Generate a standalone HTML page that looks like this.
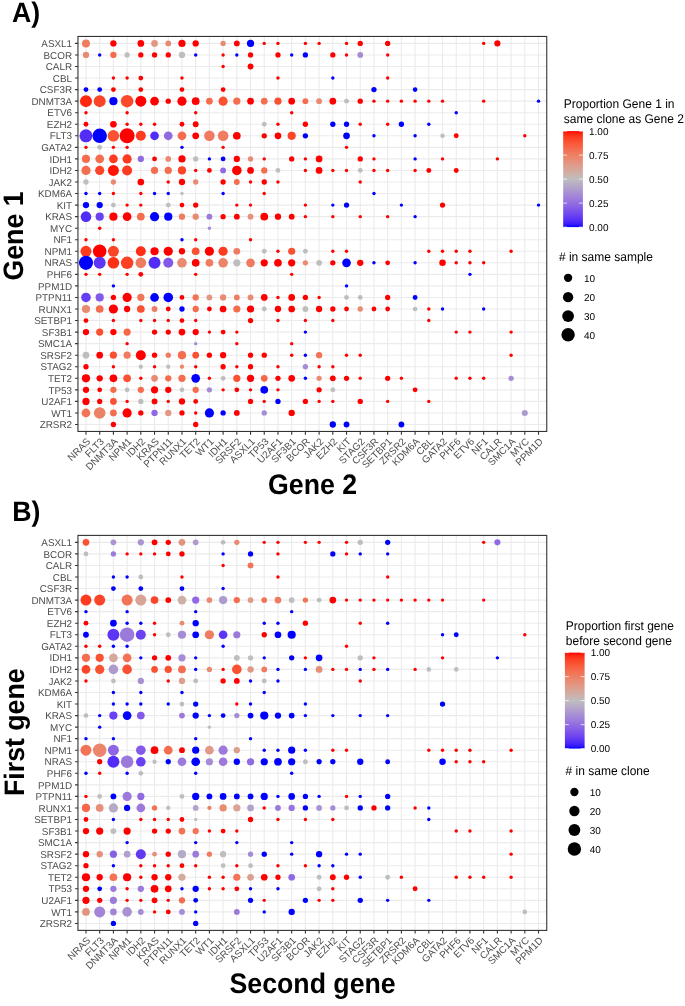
<!DOCTYPE html>
<html><head><meta charset="utf-8"><style>
html,body{margin:0;padding:0;background:#fff;}
body{width:685px;height:1006px;overflow:hidden;}
svg{display:block;will-change:transform;}
circle{shape-rendering:geometricPrecision;}
text{font-family:"Liberation Sans",sans-serif;text-rendering:geometricPrecision;}
.lab{font-size:9.9px;fill:#4d4d4d;}
.tt{font-size:26.7px;font-weight:bold;fill:#000;}
.lt{font-size:12px;fill:#000;}
.ll{font-size:10px;fill:#000;}
</style></head><body>
<svg width="685" height="1006" viewBox="0 0 685 1006">
<rect width="685" height="1006" fill="#fff"/>
<defs><linearGradient id="grad" x1="0" y1="0" x2="0" y2="1"><stop offset="0.0000" stop-color="#ff0000"/><stop offset="0.0250" stop-color="#fe240f"/><stop offset="0.0500" stop-color="#fd351c"/><stop offset="0.0750" stop-color="#fc4226"/><stop offset="0.1000" stop-color="#fa4d2f"/><stop offset="0.1250" stop-color="#f95738"/><stop offset="0.1500" stop-color="#f76041"/><stop offset="0.1750" stop-color="#f5684a"/><stop offset="0.2000" stop-color="#f37053"/><stop offset="0.2250" stop-color="#f0785b"/><stop offset="0.2500" stop-color="#ed7f64"/><stop offset="0.2750" stop-color="#eb866d"/><stop offset="0.3000" stop-color="#e78d76"/><stop offset="0.3250" stop-color="#e4937f"/><stop offset="0.3500" stop-color="#e09a87"/><stop offset="0.3750" stop-color="#dba090"/><stop offset="0.4000" stop-color="#d7a699"/><stop offset="0.4250" stop-color="#d1aca2"/><stop offset="0.4500" stop-color="#ccb2ac"/><stop offset="0.4750" stop-color="#c5b8b5"/><stop offset="0.5000" stop-color="#bebebe"/><stop offset="0.5250" stop-color="#bbb6c2"/><stop offset="0.5500" stop-color="#b7aec6"/><stop offset="0.5750" stop-color="#b4a6c9"/><stop offset="0.6000" stop-color="#b09ecd"/><stop offset="0.6250" stop-color="#ac96d0"/><stop offset="0.6500" stop-color="#a78ed4"/><stop offset="0.6750" stop-color="#a386d7"/><stop offset="0.7000" stop-color="#9e7eda"/><stop offset="0.7250" stop-color="#9876de"/><stop offset="0.7500" stop-color="#926de1"/><stop offset="0.7750" stop-color="#8c65e4"/><stop offset="0.8000" stop-color="#855de7"/><stop offset="0.8250" stop-color="#7d54ea"/><stop offset="0.8500" stop-color="#754ced"/><stop offset="0.8750" stop-color="#6c43f0"/><stop offset="0.9000" stop-color="#6139f3"/><stop offset="0.9250" stop-color="#552ff6"/><stop offset="0.9500" stop-color="#4624f9"/><stop offset="0.9750" stop-color="#3116fc"/><stop offset="1.0000" stop-color="#0000ff"/></linearGradient></defs>
<rect x="77.75" y="36.45" width="469.00" height="395.00" fill="#fff"/>
<path d="M85.98 36.45V431.45M99.69 36.45V431.45M113.40 36.45V431.45M127.12 36.45V431.45M140.83 36.45V431.45M154.55 36.45V431.45M168.26 36.45V431.45M181.97 36.45V431.45M195.69 36.45V431.45M209.40 36.45V431.45M223.11 36.45V431.45M236.83 36.45V431.45M250.54 36.45V431.45M264.25 36.45V431.45M277.97 36.45V431.45M291.68 36.45V431.45M305.39 36.45V431.45M319.11 36.45V431.45M332.82 36.45V431.45M346.53 36.45V431.45M360.25 36.45V431.45M373.96 36.45V431.45M387.67 36.45V431.45M401.39 36.45V431.45M415.10 36.45V431.45M428.81 36.45V431.45M442.53 36.45V431.45M456.24 36.45V431.45M469.95 36.45V431.45M483.67 36.45V431.45M497.38 36.45V431.45M511.10 36.45V431.45M524.81 36.45V431.45M538.52 36.45V431.45M77.75 43.38H546.75M77.75 54.93H546.75M77.75 66.48H546.75M77.75 78.03H546.75M77.75 89.58H546.75M77.75 101.13H546.75M77.75 112.68H546.75M77.75 124.23H546.75M77.75 135.78H546.75M77.75 147.33H546.75M77.75 158.88H546.75M77.75 170.43H546.75M77.75 181.98H546.75M77.75 193.53H546.75M77.75 205.08H546.75M77.75 216.63H546.75M77.75 228.18H546.75M77.75 239.72H546.75M77.75 251.27H546.75M77.75 262.82H546.75M77.75 274.37H546.75M77.75 285.92H546.75M77.75 297.47H546.75M77.75 309.02H546.75M77.75 320.57H546.75M77.75 332.12H546.75M77.75 343.67H546.75M77.75 355.22H546.75M77.75 366.77H546.75M77.75 378.32H546.75M77.75 389.87H546.75M77.75 401.42H546.75M77.75 412.97H546.75M77.75 424.52H546.75" stroke="#ebebeb" stroke-width="1.1" fill="none"/>
<circle cx="85.98" cy="43.38" r="4.00" fill="#ef7c61"/>
<circle cx="113.40" cy="43.38" r="3.15" fill="#ff0000"/>
<circle cx="140.83" cy="43.38" r="3.35" fill="#ff0000"/>
<circle cx="154.55" cy="43.38" r="3.35" fill="#e19784"/>
<circle cx="168.26" cy="43.38" r="2.90" fill="#e98a72"/>
<circle cx="181.97" cy="43.38" r="3.60" fill="#ff0000"/>
<circle cx="195.69" cy="43.38" r="3.15" fill="#ff0000"/>
<circle cx="223.11" cy="43.38" r="2.65" fill="#e98a72"/>
<circle cx="236.83" cy="43.38" r="2.90" fill="#ff0000"/>
<circle cx="250.54" cy="43.38" r="3.60" fill="#0000ff"/>
<circle cx="264.25" cy="43.38" r="1.70" fill="#ff0000"/>
<circle cx="277.97" cy="43.38" r="1.70" fill="#ff0000"/>
<circle cx="305.39" cy="43.38" r="1.70" fill="#ff0000"/>
<circle cx="319.11" cy="43.38" r="1.70" fill="#ff0000"/>
<circle cx="346.53" cy="43.38" r="1.70" fill="#ff0000"/>
<circle cx="360.25" cy="43.38" r="2.65" fill="#ff0000"/>
<circle cx="387.67" cy="43.38" r="2.65" fill="#ff0000"/>
<circle cx="483.67" cy="43.38" r="1.70" fill="#ff0000"/>
<circle cx="497.38" cy="43.38" r="3.05" fill="#ff0000"/>
<circle cx="85.98" cy="54.93" r="3.15" fill="#e98a72"/>
<circle cx="99.69" cy="54.93" r="1.70" fill="#0000ff"/>
<circle cx="113.40" cy="54.93" r="3.15" fill="#f46d4f"/>
<circle cx="127.12" cy="54.93" r="2.65" fill="#bebebe"/>
<circle cx="140.83" cy="54.93" r="2.65" fill="#ff0000"/>
<circle cx="154.55" cy="54.93" r="2.65" fill="#ff0000"/>
<circle cx="168.26" cy="54.93" r="2.65" fill="#ff0000"/>
<circle cx="181.97" cy="54.93" r="3.15" fill="#bebebe"/>
<circle cx="195.69" cy="54.93" r="1.70" fill="#0000ff"/>
<circle cx="223.11" cy="54.93" r="1.70" fill="#ff0000"/>
<circle cx="236.83" cy="54.93" r="1.70" fill="#0000ff"/>
<circle cx="250.54" cy="54.93" r="2.65" fill="#ff0000"/>
<circle cx="277.97" cy="54.93" r="2.65" fill="#ff0000"/>
<circle cx="291.68" cy="54.93" r="1.70" fill="#0000ff"/>
<circle cx="305.39" cy="54.93" r="2.65" fill="#0000ff"/>
<circle cx="332.82" cy="54.93" r="2.65" fill="#ff0000"/>
<circle cx="346.53" cy="54.93" r="1.70" fill="#ff0000"/>
<circle cx="360.25" cy="54.93" r="2.90" fill="#a68bd5"/>
<circle cx="387.67" cy="54.93" r="1.70" fill="#ff0000"/>
<circle cx="223.11" cy="66.48" r="1.70" fill="#ff0000"/>
<circle cx="250.54" cy="66.48" r="2.90" fill="#ff0000"/>
<circle cx="113.40" cy="78.03" r="1.70" fill="#ff0000"/>
<circle cx="127.12" cy="78.03" r="1.70" fill="#ff0000"/>
<circle cx="140.83" cy="78.03" r="2.40" fill="#ff0000"/>
<circle cx="181.97" cy="78.03" r="1.70" fill="#ff0000"/>
<circle cx="277.97" cy="78.03" r="1.70" fill="#ff0000"/>
<circle cx="332.82" cy="78.03" r="1.70" fill="#0000ff"/>
<circle cx="387.67" cy="78.03" r="1.70" fill="#ff0000"/>
<circle cx="85.98" cy="89.58" r="2.40" fill="#0000ff"/>
<circle cx="99.69" cy="89.58" r="2.40" fill="#0000ff"/>
<circle cx="113.40" cy="89.58" r="2.40" fill="#ff0000"/>
<circle cx="140.83" cy="89.58" r="2.40" fill="#ff0000"/>
<circle cx="181.97" cy="89.58" r="2.40" fill="#ff0000"/>
<circle cx="223.11" cy="89.58" r="2.40" fill="#ff0000"/>
<circle cx="373.96" cy="89.58" r="2.65" fill="#0000ff"/>
<circle cx="415.10" cy="89.58" r="2.30" fill="#0000ff"/>
<circle cx="85.98" cy="101.13" r="6.00" fill="#fe2812"/>
<circle cx="99.69" cy="101.13" r="6.00" fill="#fb4528"/>
<circle cx="113.40" cy="101.13" r="4.10" fill="#0000ff"/>
<circle cx="127.12" cy="101.13" r="6.25" fill="#fb492b"/>
<circle cx="140.83" cy="101.13" r="5.50" fill="#ff0000"/>
<circle cx="154.55" cy="101.13" r="4.35" fill="#ff0000"/>
<circle cx="168.26" cy="101.13" r="2.65" fill="#ff0000"/>
<circle cx="181.97" cy="101.13" r="4.60" fill="#ff0000"/>
<circle cx="195.69" cy="101.13" r="3.85" fill="#ff0000"/>
<circle cx="209.40" cy="101.13" r="3.35" fill="#f46d4f"/>
<circle cx="223.11" cy="101.13" r="4.60" fill="#fa5133"/>
<circle cx="236.83" cy="101.13" r="3.60" fill="#f46d4f"/>
<circle cx="250.54" cy="101.13" r="3.35" fill="#ff0000"/>
<circle cx="264.25" cy="101.13" r="3.35" fill="#f46d4f"/>
<circle cx="277.97" cy="101.13" r="3.60" fill="#fa5133"/>
<circle cx="291.68" cy="101.13" r="3.35" fill="#ff0000"/>
<circle cx="305.39" cy="101.13" r="2.90" fill="#f46d4f"/>
<circle cx="319.11" cy="101.13" r="2.90" fill="#e98a72"/>
<circle cx="332.82" cy="101.13" r="3.35" fill="#ff0000"/>
<circle cx="346.53" cy="101.13" r="2.40" fill="#bebebe"/>
<circle cx="360.25" cy="101.13" r="2.65" fill="#ff0000"/>
<circle cx="373.96" cy="101.13" r="1.70" fill="#ff0000"/>
<circle cx="387.67" cy="101.13" r="1.70" fill="#ff0000"/>
<circle cx="401.39" cy="101.13" r="1.70" fill="#ff0000"/>
<circle cx="415.10" cy="101.13" r="1.70" fill="#ff0000"/>
<circle cx="428.81" cy="101.13" r="1.70" fill="#ff0000"/>
<circle cx="442.53" cy="101.13" r="1.70" fill="#ff0000"/>
<circle cx="483.67" cy="101.13" r="1.70" fill="#ff0000"/>
<circle cx="538.52" cy="101.13" r="1.70" fill="#0000ff"/>
<circle cx="85.98" cy="112.68" r="1.70" fill="#ff0000"/>
<circle cx="127.12" cy="112.68" r="1.70" fill="#ff0000"/>
<circle cx="195.69" cy="112.68" r="1.70" fill="#ff0000"/>
<circle cx="291.68" cy="112.68" r="1.70" fill="#ff0000"/>
<circle cx="456.24" cy="112.68" r="1.70" fill="#0000ff"/>
<circle cx="85.98" cy="124.23" r="2.40" fill="#ff0000"/>
<circle cx="113.40" cy="124.23" r="3.35" fill="#ff0000"/>
<circle cx="127.12" cy="124.23" r="1.70" fill="#ff0000"/>
<circle cx="140.83" cy="124.23" r="1.70" fill="#ff0000"/>
<circle cx="154.55" cy="124.23" r="1.70" fill="#ff0000"/>
<circle cx="181.97" cy="124.23" r="2.40" fill="#ff0000"/>
<circle cx="195.69" cy="124.23" r="2.90" fill="#ff0000"/>
<circle cx="264.25" cy="124.23" r="2.40" fill="#bebebe"/>
<circle cx="277.97" cy="124.23" r="1.70" fill="#ff0000"/>
<circle cx="305.39" cy="124.23" r="2.65" fill="#ff0000"/>
<circle cx="332.82" cy="124.23" r="2.65" fill="#0000ff"/>
<circle cx="346.53" cy="124.23" r="2.65" fill="#0000ff"/>
<circle cx="360.25" cy="124.23" r="1.70" fill="#ff0000"/>
<circle cx="387.67" cy="124.23" r="1.70" fill="#ff0000"/>
<circle cx="401.39" cy="124.23" r="2.65" fill="#0000ff"/>
<circle cx="428.81" cy="124.23" r="1.70" fill="#0000ff"/>
<circle cx="85.98" cy="135.78" r="6.50" fill="#522df7"/>
<circle cx="99.69" cy="135.78" r="7.25" fill="#0000ff"/>
<circle cx="113.40" cy="135.78" r="5.80" fill="#fa5133"/>
<circle cx="127.12" cy="135.78" r="7.50" fill="#ff0000"/>
<circle cx="140.83" cy="135.78" r="5.00" fill="#fc3b20"/>
<circle cx="154.55" cy="135.78" r="4.35" fill="#522df7"/>
<circle cx="168.26" cy="135.78" r="4.35" fill="#906ae2"/>
<circle cx="181.97" cy="135.78" r="4.35" fill="#f46d4f"/>
<circle cx="195.69" cy="135.78" r="3.35" fill="#ff0000"/>
<circle cx="209.40" cy="135.78" r="5.30" fill="#ef7c61"/>
<circle cx="223.11" cy="135.78" r="5.30" fill="#ef7c61"/>
<circle cx="236.83" cy="135.78" r="3.85" fill="#ff0000"/>
<circle cx="264.25" cy="135.78" r="2.65" fill="#ff0000"/>
<circle cx="277.97" cy="135.78" r="3.35" fill="#ff0000"/>
<circle cx="291.68" cy="135.78" r="4.10" fill="#fb4528"/>
<circle cx="305.39" cy="135.78" r="2.65" fill="#0000ff"/>
<circle cx="346.53" cy="135.78" r="3.35" fill="#0000ff"/>
<circle cx="373.96" cy="135.78" r="1.70" fill="#0000ff"/>
<circle cx="415.10" cy="135.78" r="1.70" fill="#0000ff"/>
<circle cx="442.53" cy="135.78" r="2.30" fill="#bebebe"/>
<circle cx="456.24" cy="135.78" r="2.45" fill="#ff0000"/>
<circle cx="524.81" cy="135.78" r="1.70" fill="#ff0000"/>
<circle cx="85.98" cy="147.33" r="1.70" fill="#ff0000"/>
<circle cx="99.69" cy="147.33" r="2.40" fill="#bebebe"/>
<circle cx="113.40" cy="147.33" r="1.70" fill="#ff0000"/>
<circle cx="127.12" cy="147.33" r="1.70" fill="#ff0000"/>
<circle cx="181.97" cy="147.33" r="1.70" fill="#0000ff"/>
<circle cx="223.11" cy="147.33" r="1.70" fill="#ff0000"/>
<circle cx="346.53" cy="147.33" r="1.70" fill="#ff0000"/>
<circle cx="85.98" cy="158.88" r="4.10" fill="#f46d4f"/>
<circle cx="99.69" cy="158.88" r="4.35" fill="#f46d4f"/>
<circle cx="113.40" cy="158.88" r="4.35" fill="#fc3b20"/>
<circle cx="127.12" cy="158.88" r="4.60" fill="#fc3b20"/>
<circle cx="140.83" cy="158.88" r="3.15" fill="#906ae2"/>
<circle cx="154.55" cy="158.88" r="2.40" fill="#ff0000"/>
<circle cx="168.26" cy="158.88" r="2.90" fill="#e98a72"/>
<circle cx="181.97" cy="158.88" r="3.60" fill="#ff0000"/>
<circle cx="195.69" cy="158.88" r="2.65" fill="#bebebe"/>
<circle cx="209.40" cy="158.88" r="1.70" fill="#0000ff"/>
<circle cx="223.11" cy="158.88" r="2.40" fill="#0000ff"/>
<circle cx="236.83" cy="158.88" r="3.15" fill="#ff0000"/>
<circle cx="250.54" cy="158.88" r="2.65" fill="#e98a72"/>
<circle cx="264.25" cy="158.88" r="1.70" fill="#ff0000"/>
<circle cx="291.68" cy="158.88" r="2.65" fill="#ff0000"/>
<circle cx="305.39" cy="158.88" r="1.70" fill="#ff0000"/>
<circle cx="319.11" cy="158.88" r="3.35" fill="#ff0000"/>
<circle cx="360.25" cy="158.88" r="2.65" fill="#ff0000"/>
<circle cx="373.96" cy="158.88" r="1.70" fill="#ff0000"/>
<circle cx="415.10" cy="158.88" r="1.70" fill="#0000ff"/>
<circle cx="442.53" cy="158.88" r="1.70" fill="#ff0000"/>
<circle cx="497.38" cy="158.88" r="1.70" fill="#ff0000"/>
<circle cx="85.98" cy="170.43" r="4.60" fill="#f46d4f"/>
<circle cx="99.69" cy="170.43" r="4.60" fill="#fb4528"/>
<circle cx="113.40" cy="170.43" r="5.50" fill="#ff1406"/>
<circle cx="127.12" cy="170.43" r="5.00" fill="#fc3b20"/>
<circle cx="154.55" cy="170.43" r="3.60" fill="#f46d4f"/>
<circle cx="168.26" cy="170.43" r="3.60" fill="#f46d4f"/>
<circle cx="181.97" cy="170.43" r="4.10" fill="#fb4528"/>
<circle cx="195.69" cy="170.43" r="1.70" fill="#ff0000"/>
<circle cx="209.40" cy="170.43" r="2.40" fill="#ff0000"/>
<circle cx="223.11" cy="170.43" r="2.90" fill="#906ae2"/>
<circle cx="236.83" cy="170.43" r="4.80" fill="#ff0000"/>
<circle cx="250.54" cy="170.43" r="3.35" fill="#ff0000"/>
<circle cx="264.25" cy="170.43" r="3.15" fill="#f46d4f"/>
<circle cx="277.97" cy="170.43" r="2.40" fill="#bebebe"/>
<circle cx="305.39" cy="170.43" r="1.70" fill="#ff0000"/>
<circle cx="319.11" cy="170.43" r="3.35" fill="#ff0000"/>
<circle cx="332.82" cy="170.43" r="1.70" fill="#ff0000"/>
<circle cx="346.53" cy="170.43" r="1.70" fill="#ff0000"/>
<circle cx="360.25" cy="170.43" r="2.40" fill="#bebebe"/>
<circle cx="373.96" cy="170.43" r="1.70" fill="#ff0000"/>
<circle cx="387.67" cy="170.43" r="1.70" fill="#ff0000"/>
<circle cx="415.10" cy="170.43" r="1.70" fill="#ff0000"/>
<circle cx="428.81" cy="170.43" r="2.45" fill="#ff0000"/>
<circle cx="456.24" cy="170.43" r="2.45" fill="#ff0000"/>
<circle cx="85.98" cy="181.98" r="2.65" fill="#bebebe"/>
<circle cx="113.40" cy="181.98" r="2.65" fill="#e98a72"/>
<circle cx="140.83" cy="181.98" r="3.35" fill="#ff0000"/>
<circle cx="168.26" cy="181.98" r="1.70" fill="#ff0000"/>
<circle cx="181.97" cy="181.98" r="3.15" fill="#ff0000"/>
<circle cx="195.69" cy="181.98" r="2.65" fill="#e98a72"/>
<circle cx="223.11" cy="181.98" r="2.65" fill="#ff0000"/>
<circle cx="236.83" cy="181.98" r="2.90" fill="#f46d4f"/>
<circle cx="250.54" cy="181.98" r="1.70" fill="#ff0000"/>
<circle cx="264.25" cy="181.98" r="2.65" fill="#ff0000"/>
<circle cx="277.97" cy="181.98" r="1.70" fill="#ff0000"/>
<circle cx="360.25" cy="181.98" r="1.70" fill="#ff0000"/>
<circle cx="85.98" cy="193.53" r="1.70" fill="#0000ff"/>
<circle cx="99.69" cy="193.53" r="1.70" fill="#0000ff"/>
<circle cx="113.40" cy="193.53" r="1.70" fill="#ff0000"/>
<circle cx="140.83" cy="193.53" r="1.70" fill="#ff0000"/>
<circle cx="154.55" cy="193.53" r="1.70" fill="#0000ff"/>
<circle cx="168.26" cy="193.53" r="1.70" fill="#0000ff"/>
<circle cx="181.97" cy="193.53" r="1.70" fill="#bebebe"/>
<circle cx="223.11" cy="193.53" r="1.70" fill="#0000ff"/>
<circle cx="264.25" cy="193.53" r="1.70" fill="#ff0000"/>
<circle cx="373.96" cy="193.53" r="1.70" fill="#0000ff"/>
<circle cx="85.98" cy="205.08" r="3.15" fill="#0000ff"/>
<circle cx="99.69" cy="205.08" r="3.15" fill="#0000ff"/>
<circle cx="113.40" cy="205.08" r="2.40" fill="#bebebe"/>
<circle cx="127.12" cy="205.08" r="1.70" fill="#ff0000"/>
<circle cx="140.83" cy="205.08" r="1.70" fill="#ff0000"/>
<circle cx="168.26" cy="205.08" r="2.40" fill="#bebebe"/>
<circle cx="181.97" cy="205.08" r="2.40" fill="#ff0000"/>
<circle cx="195.69" cy="205.08" r="2.65" fill="#ff0000"/>
<circle cx="236.83" cy="205.08" r="1.70" fill="#ff0000"/>
<circle cx="250.54" cy="205.08" r="1.70" fill="#ff0000"/>
<circle cx="305.39" cy="205.08" r="1.70" fill="#ff0000"/>
<circle cx="332.82" cy="205.08" r="1.70" fill="#0000ff"/>
<circle cx="346.53" cy="205.08" r="2.65" fill="#0000ff"/>
<circle cx="401.39" cy="205.08" r="1.70" fill="#0000ff"/>
<circle cx="442.53" cy="205.08" r="2.65" fill="#ff0000"/>
<circle cx="538.52" cy="205.08" r="1.70" fill="#0000ff"/>
<circle cx="85.98" cy="216.63" r="5.30" fill="#522df7"/>
<circle cx="99.69" cy="216.63" r="4.10" fill="#6a41f1"/>
<circle cx="113.40" cy="216.63" r="4.10" fill="#ff0000"/>
<circle cx="127.12" cy="216.63" r="4.35" fill="#ff0000"/>
<circle cx="140.83" cy="216.63" r="3.85" fill="#f46d4f"/>
<circle cx="154.55" cy="216.63" r="4.60" fill="#0000ff"/>
<circle cx="168.26" cy="216.63" r="4.10" fill="#0000ff"/>
<circle cx="181.97" cy="216.63" r="3.15" fill="#ef7c61"/>
<circle cx="195.69" cy="216.63" r="3.15" fill="#e98a72"/>
<circle cx="209.40" cy="216.63" r="2.90" fill="#9b7adc"/>
<circle cx="223.11" cy="216.63" r="2.65" fill="#ff0000"/>
<circle cx="236.83" cy="216.63" r="2.90" fill="#ff0000"/>
<circle cx="250.54" cy="216.63" r="2.90" fill="#e68f79"/>
<circle cx="264.25" cy="216.63" r="3.85" fill="#ff0000"/>
<circle cx="277.97" cy="216.63" r="3.15" fill="#ff0000"/>
<circle cx="291.68" cy="216.63" r="2.90" fill="#ff0000"/>
<circle cx="305.39" cy="216.63" r="1.70" fill="#ff0000"/>
<circle cx="332.82" cy="216.63" r="1.70" fill="#ff0000"/>
<circle cx="360.25" cy="216.63" r="1.70" fill="#ff0000"/>
<circle cx="387.67" cy="216.63" r="1.70" fill="#ff0000"/>
<circle cx="415.10" cy="216.63" r="1.70" fill="#0000ff"/>
<circle cx="99.69" cy="228.18" r="1.70" fill="#ff0000"/>
<circle cx="209.40" cy="228.18" r="1.70" fill="#a68bd5"/>
<circle cx="85.98" cy="239.72" r="1.70" fill="#ff0000"/>
<circle cx="113.40" cy="239.72" r="1.70" fill="#ff0000"/>
<circle cx="181.97" cy="239.72" r="1.70" fill="#0000ff"/>
<circle cx="195.69" cy="239.72" r="1.70" fill="#ff0000"/>
<circle cx="250.54" cy="239.72" r="1.70" fill="#ff0000"/>
<circle cx="85.98" cy="251.27" r="5.50" fill="#fc3b20"/>
<circle cx="99.69" cy="251.27" r="6.75" fill="#ff0000"/>
<circle cx="113.40" cy="251.27" r="5.50" fill="#fb4528"/>
<circle cx="140.83" cy="251.27" r="5.00" fill="#fd2f17"/>
<circle cx="154.55" cy="251.27" r="4.10" fill="#ff0000"/>
<circle cx="168.26" cy="251.27" r="4.60" fill="#ff0000"/>
<circle cx="181.97" cy="251.27" r="3.15" fill="#ff0000"/>
<circle cx="195.69" cy="251.27" r="3.85" fill="#fa5133"/>
<circle cx="209.40" cy="251.27" r="4.60" fill="#ff0000"/>
<circle cx="223.11" cy="251.27" r="4.60" fill="#fc3b20"/>
<circle cx="236.83" cy="251.27" r="3.35" fill="#ef7c61"/>
<circle cx="264.25" cy="251.27" r="2.40" fill="#bebebe"/>
<circle cx="277.97" cy="251.27" r="1.70" fill="#ff0000"/>
<circle cx="291.68" cy="251.27" r="3.60" fill="#fa5133"/>
<circle cx="305.39" cy="251.27" r="2.40" fill="#bebebe"/>
<circle cx="332.82" cy="251.27" r="1.70" fill="#ff0000"/>
<circle cx="346.53" cy="251.27" r="1.70" fill="#ff0000"/>
<circle cx="428.81" cy="251.27" r="1.70" fill="#ff0000"/>
<circle cx="442.53" cy="251.27" r="1.70" fill="#ff0000"/>
<circle cx="456.24" cy="251.27" r="1.70" fill="#ff0000"/>
<circle cx="469.95" cy="251.27" r="1.70" fill="#ff0000"/>
<circle cx="511.10" cy="251.27" r="1.70" fill="#ff0000"/>
<circle cx="85.98" cy="262.82" r="7.10" fill="#0000ff"/>
<circle cx="99.69" cy="262.82" r="6.00" fill="#5d35f4"/>
<circle cx="113.40" cy="262.82" r="5.80" fill="#fd2f17"/>
<circle cx="127.12" cy="262.82" r="6.25" fill="#fc4024"/>
<circle cx="140.83" cy="262.82" r="5.30" fill="#ef7c61"/>
<circle cx="154.55" cy="262.82" r="6.00" fill="#522df7"/>
<circle cx="168.26" cy="262.82" r="5.00" fill="#8259e8"/>
<circle cx="181.97" cy="262.82" r="4.80" fill="#e98a72"/>
<circle cx="195.69" cy="262.82" r="3.85" fill="#ff0000"/>
<circle cx="209.40" cy="262.82" r="3.85" fill="#ef7c61"/>
<circle cx="223.11" cy="262.82" r="4.80" fill="#eb856b"/>
<circle cx="236.83" cy="262.82" r="3.60" fill="#bebebe"/>
<circle cx="250.54" cy="262.82" r="4.35" fill="#ef7c61"/>
<circle cx="264.25" cy="262.82" r="3.60" fill="#ff0000"/>
<circle cx="277.97" cy="262.82" r="3.85" fill="#ff0000"/>
<circle cx="291.68" cy="262.82" r="3.60" fill="#ff0000"/>
<circle cx="305.39" cy="262.82" r="2.65" fill="#e98a72"/>
<circle cx="319.11" cy="262.82" r="2.90" fill="#bebebe"/>
<circle cx="332.82" cy="262.82" r="2.65" fill="#ff0000"/>
<circle cx="346.53" cy="262.82" r="4.35" fill="#0000ff"/>
<circle cx="360.25" cy="262.82" r="3.15" fill="#ff0000"/>
<circle cx="373.96" cy="262.82" r="1.70" fill="#0000ff"/>
<circle cx="387.67" cy="262.82" r="2.40" fill="#ff0000"/>
<circle cx="415.10" cy="262.82" r="1.70" fill="#0000ff"/>
<circle cx="442.53" cy="262.82" r="3.25" fill="#ff0000"/>
<circle cx="456.24" cy="262.82" r="1.70" fill="#ff0000"/>
<circle cx="469.95" cy="262.82" r="1.70" fill="#ff0000"/>
<circle cx="483.67" cy="262.82" r="1.70" fill="#ff0000"/>
<circle cx="85.98" cy="274.37" r="1.70" fill="#ff0000"/>
<circle cx="99.69" cy="274.37" r="1.70" fill="#ff0000"/>
<circle cx="127.12" cy="274.37" r="1.70" fill="#ff0000"/>
<circle cx="140.83" cy="274.37" r="2.40" fill="#ff0000"/>
<circle cx="195.69" cy="274.37" r="1.70" fill="#ff0000"/>
<circle cx="291.68" cy="274.37" r="1.70" fill="#ff0000"/>
<circle cx="469.95" cy="274.37" r="1.70" fill="#0000ff"/>
<circle cx="113.40" cy="285.92" r="1.70" fill="#0000ff"/>
<circle cx="346.53" cy="285.92" r="1.70" fill="#0000ff"/>
<circle cx="85.98" cy="297.47" r="4.80" fill="#663df2"/>
<circle cx="99.69" cy="297.47" r="4.10" fill="#8259e8"/>
<circle cx="113.40" cy="297.47" r="2.65" fill="#ff0000"/>
<circle cx="127.12" cy="297.47" r="4.60" fill="#ff0000"/>
<circle cx="140.83" cy="297.47" r="3.60" fill="#f27356"/>
<circle cx="154.55" cy="297.47" r="4.35" fill="#0000ff"/>
<circle cx="168.26" cy="297.47" r="4.80" fill="#0000ff"/>
<circle cx="181.97" cy="297.47" r="2.40" fill="#ff0000"/>
<circle cx="195.69" cy="297.47" r="3.15" fill="#f27356"/>
<circle cx="209.40" cy="297.47" r="2.90" fill="#e19784"/>
<circle cx="223.11" cy="297.47" r="3.15" fill="#e98a72"/>
<circle cx="236.83" cy="297.47" r="2.90" fill="#ef7c61"/>
<circle cx="250.54" cy="297.47" r="2.90" fill="#e98a72"/>
<circle cx="264.25" cy="297.47" r="3.35" fill="#ff0000"/>
<circle cx="277.97" cy="297.47" r="1.70" fill="#ff0000"/>
<circle cx="291.68" cy="297.47" r="3.35" fill="#ff0000"/>
<circle cx="305.39" cy="297.47" r="2.65" fill="#ff0000"/>
<circle cx="319.11" cy="297.47" r="1.70" fill="#ff0000"/>
<circle cx="346.53" cy="297.47" r="2.40" fill="#bebebe"/>
<circle cx="360.25" cy="297.47" r="2.40" fill="#bebebe"/>
<circle cx="387.67" cy="297.47" r="2.65" fill="#ff0000"/>
<circle cx="415.10" cy="297.47" r="2.45" fill="#0000ff"/>
<circle cx="85.98" cy="309.02" r="4.10" fill="#e98a72"/>
<circle cx="99.69" cy="309.02" r="3.85" fill="#f46d4f"/>
<circle cx="113.40" cy="309.02" r="4.60" fill="#ff0000"/>
<circle cx="127.12" cy="309.02" r="3.15" fill="#ff0000"/>
<circle cx="140.83" cy="309.02" r="3.85" fill="#fa5133"/>
<circle cx="154.55" cy="309.02" r="2.90" fill="#ef7c61"/>
<circle cx="168.26" cy="309.02" r="2.40" fill="#ff0000"/>
<circle cx="181.97" cy="309.02" r="2.65" fill="#0000ff"/>
<circle cx="195.69" cy="309.02" r="3.15" fill="#f46d4f"/>
<circle cx="209.40" cy="309.02" r="2.40" fill="#ff0000"/>
<circle cx="223.11" cy="309.02" r="3.35" fill="#ff0000"/>
<circle cx="236.83" cy="309.02" r="3.60" fill="#f46d4f"/>
<circle cx="250.54" cy="309.02" r="3.60" fill="#ff0000"/>
<circle cx="264.25" cy="309.02" r="2.40" fill="#bebebe"/>
<circle cx="277.97" cy="309.02" r="3.15" fill="#ff0000"/>
<circle cx="291.68" cy="309.02" r="3.35" fill="#ff0000"/>
<circle cx="305.39" cy="309.02" r="2.90" fill="#bebebe"/>
<circle cx="319.11" cy="309.02" r="3.15" fill="#ff0000"/>
<circle cx="332.82" cy="309.02" r="2.65" fill="#ff0000"/>
<circle cx="346.53" cy="309.02" r="2.40" fill="#ff0000"/>
<circle cx="360.25" cy="309.02" r="2.65" fill="#e98a72"/>
<circle cx="373.96" cy="309.02" r="2.40" fill="#ff0000"/>
<circle cx="387.67" cy="309.02" r="2.40" fill="#ff0000"/>
<circle cx="415.10" cy="309.02" r="2.30" fill="#bebebe"/>
<circle cx="428.81" cy="309.02" r="1.70" fill="#ff0000"/>
<circle cx="442.53" cy="309.02" r="1.70" fill="#0000ff"/>
<circle cx="483.67" cy="309.02" r="1.70" fill="#0000ff"/>
<circle cx="85.98" cy="320.57" r="2.40" fill="#ff0000"/>
<circle cx="113.40" cy="320.57" r="1.70" fill="#ff0000"/>
<circle cx="140.83" cy="320.57" r="1.70" fill="#ff0000"/>
<circle cx="154.55" cy="320.57" r="1.70" fill="#ff0000"/>
<circle cx="168.26" cy="320.57" r="1.70" fill="#ff0000"/>
<circle cx="181.97" cy="320.57" r="2.40" fill="#ff0000"/>
<circle cx="195.69" cy="320.57" r="1.70" fill="#ff0000"/>
<circle cx="250.54" cy="320.57" r="2.65" fill="#ff0000"/>
<circle cx="277.97" cy="320.57" r="1.70" fill="#ff0000"/>
<circle cx="305.39" cy="320.57" r="1.70" fill="#ff0000"/>
<circle cx="332.82" cy="320.57" r="1.70" fill="#ff0000"/>
<circle cx="428.81" cy="320.57" r="1.70" fill="#ff0000"/>
<circle cx="85.98" cy="332.12" r="3.15" fill="#ff0000"/>
<circle cx="99.69" cy="332.12" r="3.60" fill="#fa5133"/>
<circle cx="113.40" cy="332.12" r="3.15" fill="#ff0000"/>
<circle cx="127.12" cy="332.12" r="3.60" fill="#f56748"/>
<circle cx="154.55" cy="332.12" r="2.65" fill="#ff0000"/>
<circle cx="168.26" cy="332.12" r="2.65" fill="#ff0000"/>
<circle cx="181.97" cy="332.12" r="3.35" fill="#ff0000"/>
<circle cx="195.69" cy="332.12" r="3.15" fill="#ff0000"/>
<circle cx="209.40" cy="332.12" r="1.70" fill="#ff0000"/>
<circle cx="223.11" cy="332.12" r="2.40" fill="#ff0000"/>
<circle cx="236.83" cy="332.12" r="1.70" fill="#ff0000"/>
<circle cx="305.39" cy="332.12" r="1.70" fill="#0000ff"/>
<circle cx="456.24" cy="332.12" r="1.70" fill="#ff0000"/>
<circle cx="469.95" cy="332.12" r="1.70" fill="#ff0000"/>
<circle cx="511.10" cy="332.12" r="1.70" fill="#ff0000"/>
<circle cx="127.12" cy="343.67" r="1.70" fill="#ff0000"/>
<circle cx="195.69" cy="343.67" r="1.70" fill="#a68bd5"/>
<circle cx="236.83" cy="343.67" r="1.70" fill="#ff0000"/>
<circle cx="291.68" cy="343.67" r="1.70" fill="#ff0000"/>
<circle cx="85.98" cy="355.22" r="3.35" fill="#bebebe"/>
<circle cx="99.69" cy="355.22" r="3.35" fill="#ff0000"/>
<circle cx="113.40" cy="355.22" r="3.60" fill="#fa5133"/>
<circle cx="127.12" cy="355.22" r="3.60" fill="#ef7c61"/>
<circle cx="140.83" cy="355.22" r="5.00" fill="#ff0000"/>
<circle cx="154.55" cy="355.22" r="2.65" fill="#ff0000"/>
<circle cx="168.26" cy="355.22" r="2.65" fill="#ef7c61"/>
<circle cx="181.97" cy="355.22" r="4.10" fill="#f46d4f"/>
<circle cx="195.69" cy="355.22" r="3.35" fill="#fa5133"/>
<circle cx="209.40" cy="355.22" r="2.65" fill="#ff0000"/>
<circle cx="223.11" cy="355.22" r="3.15" fill="#ff0000"/>
<circle cx="250.54" cy="355.22" r="2.65" fill="#ff0000"/>
<circle cx="264.25" cy="355.22" r="2.65" fill="#ff0000"/>
<circle cx="291.68" cy="355.22" r="1.70" fill="#ff0000"/>
<circle cx="305.39" cy="355.22" r="1.70" fill="#0000ff"/>
<circle cx="319.11" cy="355.22" r="3.15" fill="#f27356"/>
<circle cx="346.53" cy="355.22" r="1.70" fill="#ff0000"/>
<circle cx="360.25" cy="355.22" r="1.70" fill="#ff0000"/>
<circle cx="511.10" cy="355.22" r="1.70" fill="#ff0000"/>
<circle cx="85.98" cy="366.77" r="2.65" fill="#ff0000"/>
<circle cx="113.40" cy="366.77" r="1.70" fill="#ff0000"/>
<circle cx="140.83" cy="366.77" r="2.15" fill="#bebebe"/>
<circle cx="154.55" cy="366.77" r="1.70" fill="#ff0000"/>
<circle cx="168.26" cy="366.77" r="2.15" fill="#bebebe"/>
<circle cx="181.97" cy="366.77" r="2.15" fill="#eb856b"/>
<circle cx="195.69" cy="366.77" r="1.70" fill="#ff0000"/>
<circle cx="223.11" cy="366.77" r="2.65" fill="#ff0000"/>
<circle cx="236.83" cy="366.77" r="1.70" fill="#ff0000"/>
<circle cx="250.54" cy="366.77" r="2.65" fill="#ff0000"/>
<circle cx="277.97" cy="366.77" r="1.70" fill="#ff0000"/>
<circle cx="305.39" cy="366.77" r="2.65" fill="#a68bd5"/>
<circle cx="319.11" cy="366.77" r="1.70" fill="#ff0000"/>
<circle cx="332.82" cy="366.77" r="1.70" fill="#ff0000"/>
<circle cx="85.98" cy="378.32" r="4.10" fill="#ff0000"/>
<circle cx="99.69" cy="378.32" r="3.15" fill="#ff0000"/>
<circle cx="113.40" cy="378.32" r="3.85" fill="#ff0000"/>
<circle cx="127.12" cy="378.32" r="3.85" fill="#fa5133"/>
<circle cx="140.83" cy="378.32" r="1.70" fill="#ff0000"/>
<circle cx="154.55" cy="378.32" r="3.35" fill="#e98a72"/>
<circle cx="168.26" cy="378.32" r="3.15" fill="#f46d4f"/>
<circle cx="181.97" cy="378.32" r="3.60" fill="#f46d4f"/>
<circle cx="195.69" cy="378.32" r="4.35" fill="#0000ff"/>
<circle cx="209.40" cy="378.32" r="1.70" fill="#ff0000"/>
<circle cx="223.11" cy="378.32" r="2.40" fill="#bebebe"/>
<circle cx="236.83" cy="378.32" r="3.60" fill="#fa5133"/>
<circle cx="250.54" cy="378.32" r="3.60" fill="#ff0000"/>
<circle cx="264.25" cy="378.32" r="3.35" fill="#f56748"/>
<circle cx="277.97" cy="378.32" r="2.65" fill="#ff0000"/>
<circle cx="291.68" cy="378.32" r="3.35" fill="#ff0000"/>
<circle cx="305.39" cy="378.32" r="1.70" fill="#0000ff"/>
<circle cx="319.11" cy="378.32" r="2.65" fill="#e98a72"/>
<circle cx="332.82" cy="378.32" r="2.90" fill="#ff0000"/>
<circle cx="346.53" cy="378.32" r="2.65" fill="#ff0000"/>
<circle cx="360.25" cy="378.32" r="1.70" fill="#ff0000"/>
<circle cx="387.67" cy="378.32" r="2.65" fill="#ff0000"/>
<circle cx="401.39" cy="378.32" r="1.70" fill="#ff0000"/>
<circle cx="456.24" cy="378.32" r="1.70" fill="#ff0000"/>
<circle cx="469.95" cy="378.32" r="1.70" fill="#ff0000"/>
<circle cx="483.67" cy="378.32" r="1.70" fill="#ff0000"/>
<circle cx="511.10" cy="378.32" r="2.65" fill="#a68bd5"/>
<circle cx="85.98" cy="389.87" r="3.15" fill="#ff0000"/>
<circle cx="99.69" cy="389.87" r="2.40" fill="#ff0000"/>
<circle cx="113.40" cy="389.87" r="3.15" fill="#f46d4f"/>
<circle cx="127.12" cy="389.87" r="2.40" fill="#bebebe"/>
<circle cx="140.83" cy="389.87" r="3.15" fill="#f46d4f"/>
<circle cx="154.55" cy="389.87" r="3.60" fill="#ff0000"/>
<circle cx="168.26" cy="389.87" r="3.15" fill="#ff0000"/>
<circle cx="181.97" cy="389.87" r="2.40" fill="#bebebe"/>
<circle cx="195.69" cy="389.87" r="3.15" fill="#f46d4f"/>
<circle cx="209.40" cy="389.87" r="2.65" fill="#a68bd5"/>
<circle cx="223.11" cy="389.87" r="1.70" fill="#ff0000"/>
<circle cx="236.83" cy="389.87" r="2.40" fill="#ff0000"/>
<circle cx="250.54" cy="389.87" r="1.70" fill="#ff0000"/>
<circle cx="264.25" cy="389.87" r="3.85" fill="#0000ff"/>
<circle cx="277.97" cy="389.87" r="1.70" fill="#ff0000"/>
<circle cx="319.11" cy="389.87" r="2.65" fill="#ff0000"/>
<circle cx="332.82" cy="389.87" r="2.40" fill="#bebebe"/>
<circle cx="415.10" cy="389.87" r="2.45" fill="#ff0000"/>
<circle cx="85.98" cy="401.42" r="3.60" fill="#ff0000"/>
<circle cx="99.69" cy="401.42" r="2.65" fill="#ff0000"/>
<circle cx="113.40" cy="401.42" r="3.35" fill="#fa5133"/>
<circle cx="127.12" cy="401.42" r="1.70" fill="#ff0000"/>
<circle cx="140.83" cy="401.42" r="2.65" fill="#bebebe"/>
<circle cx="154.55" cy="401.42" r="2.90" fill="#ff0000"/>
<circle cx="168.26" cy="401.42" r="1.70" fill="#ff0000"/>
<circle cx="181.97" cy="401.42" r="3.15" fill="#ff0000"/>
<circle cx="195.69" cy="401.42" r="2.40" fill="#ff0000"/>
<circle cx="250.54" cy="401.42" r="2.65" fill="#ff0000"/>
<circle cx="264.25" cy="401.42" r="1.70" fill="#ff0000"/>
<circle cx="277.97" cy="401.42" r="2.65" fill="#0000ff"/>
<circle cx="305.39" cy="401.42" r="2.65" fill="#ff0000"/>
<circle cx="319.11" cy="401.42" r="1.70" fill="#ff0000"/>
<circle cx="332.82" cy="401.42" r="1.70" fill="#ff0000"/>
<circle cx="360.25" cy="401.42" r="2.65" fill="#ff0000"/>
<circle cx="387.67" cy="401.42" r="1.70" fill="#ff0000"/>
<circle cx="428.81" cy="401.42" r="1.70" fill="#ff0000"/>
<circle cx="85.98" cy="412.97" r="4.35" fill="#f27356"/>
<circle cx="99.69" cy="412.97" r="5.80" fill="#ec8268"/>
<circle cx="113.40" cy="412.97" r="3.35" fill="#f46d4f"/>
<circle cx="127.12" cy="412.97" r="4.60" fill="#ff0000"/>
<circle cx="140.83" cy="412.97" r="2.65" fill="#ff0000"/>
<circle cx="154.55" cy="412.97" r="3.15" fill="#906ae2"/>
<circle cx="168.26" cy="412.97" r="3.15" fill="#e19784"/>
<circle cx="181.97" cy="412.97" r="2.65" fill="#ff0000"/>
<circle cx="195.69" cy="412.97" r="1.70" fill="#ff0000"/>
<circle cx="209.40" cy="412.97" r="4.60" fill="#0000ff"/>
<circle cx="223.11" cy="412.97" r="2.65" fill="#0000ff"/>
<circle cx="236.83" cy="412.97" r="2.90" fill="#ff0000"/>
<circle cx="264.25" cy="412.97" r="2.65" fill="#a68bd5"/>
<circle cx="291.68" cy="412.97" r="3.15" fill="#ff0000"/>
<circle cx="524.81" cy="412.97" r="3.05" fill="#ae9bce"/>
<circle cx="113.40" cy="424.52" r="2.65" fill="#ff0000"/>
<circle cx="195.69" cy="424.52" r="2.65" fill="#ff0000"/>
<circle cx="332.82" cy="424.52" r="3.15" fill="#0000ff"/>
<circle cx="346.53" cy="424.52" r="2.90" fill="#0000ff"/>
<circle cx="401.39" cy="424.52" r="2.90" fill="#0000ff"/>
<rect x="77.95" y="36.45" width="468.80" height="395.00" fill="none" stroke="#333" stroke-width="1.1"/>
<path d="M75.05 43.38H77.95M75.05 54.93H77.95M75.05 66.48H77.95M75.05 78.03H77.95M75.05 89.58H77.95M75.05 101.13H77.95M75.05 112.68H77.95M75.05 124.23H77.95M75.05 135.78H77.95M75.05 147.33H77.95M75.05 158.88H77.95M75.05 170.43H77.95M75.05 181.98H77.95M75.05 193.53H77.95M75.05 205.08H77.95M75.05 216.63H77.95M75.05 228.18H77.95M75.05 239.72H77.95M75.05 251.27H77.95M75.05 262.82H77.95M75.05 274.37H77.95M75.05 285.92H77.95M75.05 297.47H77.95M75.05 309.02H77.95M75.05 320.57H77.95M75.05 332.12H77.95M75.05 343.67H77.95M75.05 355.22H77.95M75.05 366.77H77.95M75.05 378.32H77.95M75.05 389.87H77.95M75.05 401.42H77.95M75.05 412.97H77.95M75.05 424.52H77.95M85.98 431.45V434.65M99.69 431.45V434.65M113.40 431.45V434.65M127.12 431.45V434.65M140.83 431.45V434.65M154.55 431.45V434.65M168.26 431.45V434.65M181.97 431.45V434.65M195.69 431.45V434.65M209.40 431.45V434.65M223.11 431.45V434.65M236.83 431.45V434.65M250.54 431.45V434.65M264.25 431.45V434.65M277.97 431.45V434.65M291.68 431.45V434.65M305.39 431.45V434.65M319.11 431.45V434.65M332.82 431.45V434.65M346.53 431.45V434.65M360.25 431.45V434.65M373.96 431.45V434.65M387.67 431.45V434.65M401.39 431.45V434.65M415.10 431.45V434.65M428.81 431.45V434.65M442.53 431.45V434.65M456.24 431.45V434.65M469.95 431.45V434.65M483.67 431.45V434.65M497.38 431.45V434.65M511.10 431.45V434.65M524.81 431.45V434.65M538.52 431.45V434.65" stroke="#333" stroke-width="1.1" fill="none"/>
<text transform="translate(72.05 47.04) scale(1 1.0)" text-anchor="end" class="lab">ASXL1</text>
<text transform="translate(72.05 58.59) scale(1 1.0)" text-anchor="end" class="lab">BCOR</text>
<text transform="translate(72.05 70.14) scale(1 1.0)" text-anchor="end" class="lab">CALR</text>
<text transform="translate(72.05 81.69) scale(1 1.0)" text-anchor="end" class="lab">CBL</text>
<text transform="translate(72.05 93.24) scale(1 1.0)" text-anchor="end" class="lab">CSF3R</text>
<text transform="translate(72.05 104.79) scale(1 1.0)" text-anchor="end" class="lab">DNMT3A</text>
<text transform="translate(72.05 116.34) scale(1 1.0)" text-anchor="end" class="lab">ETV6</text>
<text transform="translate(72.05 127.89) scale(1 1.0)" text-anchor="end" class="lab">EZH2</text>
<text transform="translate(72.05 139.44) scale(1 1.0)" text-anchor="end" class="lab">FLT3</text>
<text transform="translate(72.05 150.99) scale(1 1.0)" text-anchor="end" class="lab">GATA2</text>
<text transform="translate(72.05 162.54) scale(1 1.0)" text-anchor="end" class="lab">IDH1</text>
<text transform="translate(72.05 174.09) scale(1 1.0)" text-anchor="end" class="lab">IDH2</text>
<text transform="translate(72.05 185.64) scale(1 1.0)" text-anchor="end" class="lab">JAK2</text>
<text transform="translate(72.05 197.19) scale(1 1.0)" text-anchor="end" class="lab">KDM6A</text>
<text transform="translate(72.05 208.74) scale(1 1.0)" text-anchor="end" class="lab">KIT</text>
<text transform="translate(72.05 220.29) scale(1 1.0)" text-anchor="end" class="lab">KRAS</text>
<text transform="translate(72.05 231.84) scale(1 1.0)" text-anchor="end" class="lab">MYC</text>
<text transform="translate(72.05 243.39) scale(1 1.0)" text-anchor="end" class="lab">NF1</text>
<text transform="translate(72.05 254.94) scale(1 1.0)" text-anchor="end" class="lab">NPM1</text>
<text transform="translate(72.05 266.49) scale(1 1.0)" text-anchor="end" class="lab">NRAS</text>
<text transform="translate(72.05 278.04) scale(1 1.0)" text-anchor="end" class="lab">PHF6</text>
<text transform="translate(72.05 289.59) scale(1 1.0)" text-anchor="end" class="lab">PPM1D</text>
<text transform="translate(72.05 301.14) scale(1 1.0)" text-anchor="end" class="lab">PTPN11</text>
<text transform="translate(72.05 312.69) scale(1 1.0)" text-anchor="end" class="lab">RUNX1</text>
<text transform="translate(72.05 324.24) scale(1 1.0)" text-anchor="end" class="lab">SETBP1</text>
<text transform="translate(72.05 335.79) scale(1 1.0)" text-anchor="end" class="lab">SF3B1</text>
<text transform="translate(72.05 347.34) scale(1 1.0)" text-anchor="end" class="lab">SMC1A</text>
<text transform="translate(72.05 358.88) scale(1 1.0)" text-anchor="end" class="lab">SRSF2</text>
<text transform="translate(72.05 370.43) scale(1 1.0)" text-anchor="end" class="lab">STAG2</text>
<text transform="translate(72.05 381.98) scale(1 1.0)" text-anchor="end" class="lab">TET2</text>
<text transform="translate(72.05 393.53) scale(1 1.0)" text-anchor="end" class="lab">TP53</text>
<text transform="translate(72.05 405.08) scale(1 1.0)" text-anchor="end" class="lab">U2AF1</text>
<text transform="translate(72.05 416.63) scale(1 1.0)" text-anchor="end" class="lab">WT1</text>
<text transform="translate(72.05 428.18) scale(1 1.0)" text-anchor="end" class="lab">ZRSR2</text>
<text transform="translate(85.98 437.05) rotate(-45) translate(0 7.13) scale(1 1.0)" text-anchor="end" class="lab">NRAS</text>
<text transform="translate(99.69 437.05) rotate(-45) translate(0 7.13) scale(1 1.0)" text-anchor="end" class="lab">FLT3</text>
<text transform="translate(113.40 437.05) rotate(-45) translate(0 7.13) scale(1 1.0)" text-anchor="end" class="lab">DNMT3A</text>
<text transform="translate(127.12 437.05) rotate(-45) translate(0 7.13) scale(1 1.0)" text-anchor="end" class="lab">NPM1</text>
<text transform="translate(140.83 437.05) rotate(-45) translate(0 7.13) scale(1 1.0)" text-anchor="end" class="lab">IDH2</text>
<text transform="translate(154.55 437.05) rotate(-45) translate(0 7.13) scale(1 1.0)" text-anchor="end" class="lab">KRAS</text>
<text transform="translate(168.26 437.05) rotate(-45) translate(0 7.13) scale(1 1.0)" text-anchor="end" class="lab">PTPN11</text>
<text transform="translate(181.97 437.05) rotate(-45) translate(0 7.13) scale(1 1.0)" text-anchor="end" class="lab">RUNX1</text>
<text transform="translate(195.69 437.05) rotate(-45) translate(0 7.13) scale(1 1.0)" text-anchor="end" class="lab">TET2</text>
<text transform="translate(209.40 437.05) rotate(-45) translate(0 7.13) scale(1 1.0)" text-anchor="end" class="lab">WT1</text>
<text transform="translate(223.11 437.05) rotate(-45) translate(0 7.13) scale(1 1.0)" text-anchor="end" class="lab">IDH1</text>
<text transform="translate(236.83 437.05) rotate(-45) translate(0 7.13) scale(1 1.0)" text-anchor="end" class="lab">SRSF2</text>
<text transform="translate(250.54 437.05) rotate(-45) translate(0 7.13) scale(1 1.0)" text-anchor="end" class="lab">ASXL1</text>
<text transform="translate(264.25 437.05) rotate(-45) translate(0 7.13) scale(1 1.0)" text-anchor="end" class="lab">TP53</text>
<text transform="translate(277.97 437.05) rotate(-45) translate(0 7.13) scale(1 1.0)" text-anchor="end" class="lab">U2AF1</text>
<text transform="translate(291.68 437.05) rotate(-45) translate(0 7.13) scale(1 1.0)" text-anchor="end" class="lab">SF3B1</text>
<text transform="translate(305.39 437.05) rotate(-45) translate(0 7.13) scale(1 1.0)" text-anchor="end" class="lab">BCOR</text>
<text transform="translate(319.11 437.05) rotate(-45) translate(0 7.13) scale(1 1.0)" text-anchor="end" class="lab">JAK2</text>
<text transform="translate(332.82 437.05) rotate(-45) translate(0 7.13) scale(1 1.0)" text-anchor="end" class="lab">EZH2</text>
<text transform="translate(346.53 437.05) rotate(-45) translate(0 7.13) scale(1 1.0)" text-anchor="end" class="lab">KIT</text>
<text transform="translate(360.25 437.05) rotate(-45) translate(0 7.13) scale(1 1.0)" text-anchor="end" class="lab">STAG2</text>
<text transform="translate(373.96 437.05) rotate(-45) translate(0 7.13) scale(1 1.0)" text-anchor="end" class="lab">CSF3R</text>
<text transform="translate(387.67 437.05) rotate(-45) translate(0 7.13) scale(1 1.0)" text-anchor="end" class="lab">SETBP1</text>
<text transform="translate(401.39 437.05) rotate(-45) translate(0 7.13) scale(1 1.0)" text-anchor="end" class="lab">ZRSR2</text>
<text transform="translate(415.10 437.05) rotate(-45) translate(0 7.13) scale(1 1.0)" text-anchor="end" class="lab">KDM6A</text>
<text transform="translate(428.81 437.05) rotate(-45) translate(0 7.13) scale(1 1.0)" text-anchor="end" class="lab">CBL</text>
<text transform="translate(442.53 437.05) rotate(-45) translate(0 7.13) scale(1 1.0)" text-anchor="end" class="lab">GATA2</text>
<text transform="translate(456.24 437.05) rotate(-45) translate(0 7.13) scale(1 1.0)" text-anchor="end" class="lab">PHF6</text>
<text transform="translate(469.95 437.05) rotate(-45) translate(0 7.13) scale(1 1.0)" text-anchor="end" class="lab">ETV6</text>
<text transform="translate(483.67 437.05) rotate(-45) translate(0 7.13) scale(1 1.0)" text-anchor="end" class="lab">NF1</text>
<text transform="translate(497.38 437.05) rotate(-45) translate(0 7.13) scale(1 1.0)" text-anchor="end" class="lab">CALR</text>
<text transform="translate(511.10 437.05) rotate(-45) translate(0 7.13) scale(1 1.0)" text-anchor="end" class="lab">SMC1A</text>
<text transform="translate(524.81 437.05) rotate(-45) translate(0 7.13) scale(1 1.0)" text-anchor="end" class="lab">MYC</text>
<text transform="translate(538.52 437.05) rotate(-45) translate(0 7.13) scale(1 1.0)" text-anchor="end" class="lab">PPM1D</text>
<rect x="77.75" y="535.40" width="469.00" height="395.00" fill="#fff"/>
<path d="M85.98 535.40V930.40M99.69 535.40V930.40M113.40 535.40V930.40M127.12 535.40V930.40M140.83 535.40V930.40M154.55 535.40V930.40M168.26 535.40V930.40M181.97 535.40V930.40M195.69 535.40V930.40M209.40 535.40V930.40M223.11 535.40V930.40M236.83 535.40V930.40M250.54 535.40V930.40M264.25 535.40V930.40M277.97 535.40V930.40M291.68 535.40V930.40M305.39 535.40V930.40M319.11 535.40V930.40M332.82 535.40V930.40M346.53 535.40V930.40M360.25 535.40V930.40M373.96 535.40V930.40M387.67 535.40V930.40M401.39 535.40V930.40M415.10 535.40V930.40M428.81 535.40V930.40M442.53 535.40V930.40M456.24 535.40V930.40M469.95 535.40V930.40M483.67 535.40V930.40M497.38 535.40V930.40M511.10 535.40V930.40M524.81 535.40V930.40M538.52 535.40V930.40M77.75 542.33H546.75M77.75 553.88H546.75M77.75 565.43H546.75M77.75 576.98H546.75M77.75 588.53H546.75M77.75 600.08H546.75M77.75 611.63H546.75M77.75 623.18H546.75M77.75 634.73H546.75M77.75 646.28H546.75M77.75 657.83H546.75M77.75 669.38H546.75M77.75 680.93H546.75M77.75 692.48H546.75M77.75 704.03H546.75M77.75 715.58H546.75M77.75 727.13H546.75M77.75 738.67H546.75M77.75 750.22H546.75M77.75 761.77H546.75M77.75 773.32H546.75M77.75 784.87H546.75M77.75 796.42H546.75M77.75 807.97H546.75M77.75 819.52H546.75M77.75 831.07H546.75M77.75 842.62H546.75M77.75 854.17H546.75M77.75 865.72H546.75M77.75 877.27H546.75M77.75 888.82H546.75M77.75 900.37H546.75M77.75 911.92H546.75M77.75 923.47H546.75" stroke="#ebebeb" stroke-width="1.1" fill="none"/>
<circle cx="85.98" cy="542.33" r="3.35" fill="#fa5133"/>
<circle cx="113.40" cy="542.33" r="2.90" fill="#ab94d1"/>
<circle cx="140.83" cy="542.33" r="3.15" fill="#ab94d1"/>
<circle cx="154.55" cy="542.33" r="2.90" fill="#ff0000"/>
<circle cx="168.26" cy="542.33" r="2.65" fill="#ff0000"/>
<circle cx="181.97" cy="542.33" r="3.35" fill="#e39480"/>
<circle cx="195.69" cy="542.33" r="2.90" fill="#ae9bce"/>
<circle cx="223.11" cy="542.33" r="2.40" fill="#bebebe"/>
<circle cx="236.83" cy="542.33" r="2.65" fill="#e98a72"/>
<circle cx="264.25" cy="542.33" r="1.70" fill="#ff0000"/>
<circle cx="277.97" cy="542.33" r="1.70" fill="#ff0000"/>
<circle cx="305.39" cy="542.33" r="1.70" fill="#ff0000"/>
<circle cx="319.11" cy="542.33" r="1.70" fill="#ff0000"/>
<circle cx="346.53" cy="542.33" r="1.70" fill="#ff0000"/>
<circle cx="360.25" cy="542.33" r="2.65" fill="#bebebe"/>
<circle cx="387.67" cy="542.33" r="2.65" fill="#0000ff"/>
<circle cx="483.67" cy="542.33" r="1.70" fill="#ff0000"/>
<circle cx="497.38" cy="542.33" r="3.05" fill="#906ae2"/>
<circle cx="85.98" cy="553.88" r="2.40" fill="#bebebe"/>
<circle cx="113.40" cy="553.88" r="2.65" fill="#9b7adc"/>
<circle cx="127.12" cy="553.88" r="1.70" fill="#ff0000"/>
<circle cx="140.83" cy="553.88" r="1.70" fill="#ff0000"/>
<circle cx="154.55" cy="553.88" r="1.70" fill="#ff0000"/>
<circle cx="168.26" cy="553.88" r="2.40" fill="#ff0000"/>
<circle cx="181.97" cy="553.88" r="2.65" fill="#ff0000"/>
<circle cx="223.11" cy="553.88" r="1.70" fill="#0000ff"/>
<circle cx="250.54" cy="553.88" r="2.65" fill="#0000ff"/>
<circle cx="277.97" cy="553.88" r="1.70" fill="#ff0000"/>
<circle cx="332.82" cy="553.88" r="2.65" fill="#0000ff"/>
<circle cx="346.53" cy="553.88" r="1.70" fill="#ff0000"/>
<circle cx="360.25" cy="553.88" r="1.70" fill="#0000ff"/>
<circle cx="387.67" cy="553.88" r="1.70" fill="#0000ff"/>
<circle cx="223.11" cy="565.43" r="1.70" fill="#ff0000"/>
<circle cx="250.54" cy="565.43" r="2.90" fill="#f27356"/>
<circle cx="113.40" cy="576.98" r="1.70" fill="#0000ff"/>
<circle cx="127.12" cy="576.98" r="1.70" fill="#0000ff"/>
<circle cx="140.83" cy="576.98" r="2.40" fill="#bebebe"/>
<circle cx="181.97" cy="576.98" r="1.70" fill="#ff0000"/>
<circle cx="277.97" cy="576.98" r="1.70" fill="#ff0000"/>
<circle cx="387.67" cy="576.98" r="1.70" fill="#ff0000"/>
<circle cx="113.40" cy="588.53" r="2.40" fill="#0000ff"/>
<circle cx="140.83" cy="588.53" r="2.40" fill="#0000ff"/>
<circle cx="181.97" cy="588.53" r="2.40" fill="#0000ff"/>
<circle cx="223.11" cy="588.53" r="1.70" fill="#0000ff"/>
<circle cx="85.98" cy="600.08" r="5.50" fill="#fc3b20"/>
<circle cx="99.69" cy="600.08" r="5.50" fill="#fb4528"/>
<circle cx="127.12" cy="600.08" r="5.50" fill="#f27356"/>
<circle cx="140.83" cy="600.08" r="5.50" fill="#d9a496"/>
<circle cx="154.55" cy="600.08" r="3.85" fill="#fb4528"/>
<circle cx="168.26" cy="600.08" r="2.90" fill="#ff0000"/>
<circle cx="181.97" cy="600.08" r="4.35" fill="#ceb0a8"/>
<circle cx="195.69" cy="600.08" r="3.60" fill="#906ae2"/>
<circle cx="209.40" cy="600.08" r="2.90" fill="#e98a72"/>
<circle cx="223.11" cy="600.08" r="4.10" fill="#ae9bce"/>
<circle cx="236.83" cy="600.08" r="3.15" fill="#f46d4f"/>
<circle cx="250.54" cy="600.08" r="2.90" fill="#de9c8b"/>
<circle cx="264.25" cy="600.08" r="2.90" fill="#f27356"/>
<circle cx="277.97" cy="600.08" r="3.35" fill="#ef7c61"/>
<circle cx="291.68" cy="600.08" r="2.90" fill="#bebebe"/>
<circle cx="305.39" cy="600.08" r="2.65" fill="#f27356"/>
<circle cx="319.11" cy="600.08" r="2.40" fill="#bebebe"/>
<circle cx="332.82" cy="600.08" r="3.35" fill="#ff0000"/>
<circle cx="346.53" cy="600.08" r="1.70" fill="#ff0000"/>
<circle cx="360.25" cy="600.08" r="1.70" fill="#ff0000"/>
<circle cx="373.96" cy="600.08" r="1.70" fill="#ff0000"/>
<circle cx="387.67" cy="600.08" r="1.70" fill="#ff0000"/>
<circle cx="401.39" cy="600.08" r="1.70" fill="#ff0000"/>
<circle cx="415.10" cy="600.08" r="1.70" fill="#ff0000"/>
<circle cx="428.81" cy="600.08" r="1.70" fill="#ff0000"/>
<circle cx="442.53" cy="600.08" r="1.70" fill="#ff0000"/>
<circle cx="483.67" cy="600.08" r="1.70" fill="#ff0000"/>
<circle cx="85.98" cy="611.63" r="1.70" fill="#0000ff"/>
<circle cx="127.12" cy="611.63" r="1.70" fill="#0000ff"/>
<circle cx="195.69" cy="611.63" r="1.70" fill="#0000ff"/>
<circle cx="291.68" cy="611.63" r="1.70" fill="#0000ff"/>
<circle cx="85.98" cy="623.18" r="2.40" fill="#ff0000"/>
<circle cx="113.40" cy="623.18" r="3.35" fill="#0000ff"/>
<circle cx="127.12" cy="623.18" r="1.70" fill="#0000ff"/>
<circle cx="140.83" cy="623.18" r="1.70" fill="#0000ff"/>
<circle cx="154.55" cy="623.18" r="1.70" fill="#ff0000"/>
<circle cx="181.97" cy="623.18" r="2.40" fill="#e98a72"/>
<circle cx="195.69" cy="623.18" r="3.15" fill="#0000ff"/>
<circle cx="264.25" cy="623.18" r="1.70" fill="#0000ff"/>
<circle cx="277.97" cy="623.18" r="1.70" fill="#0000ff"/>
<circle cx="305.39" cy="623.18" r="2.65" fill="#ff0000"/>
<circle cx="360.25" cy="623.18" r="1.70" fill="#ff0000"/>
<circle cx="387.67" cy="623.18" r="1.70" fill="#0000ff"/>
<circle cx="85.98" cy="634.73" r="2.90" fill="#0000ff"/>
<circle cx="113.40" cy="634.73" r="6.00" fill="#5d35f4"/>
<circle cx="127.12" cy="634.73" r="7.25" fill="#9b7adc"/>
<circle cx="140.83" cy="634.73" r="5.00" fill="#6a41f1"/>
<circle cx="154.55" cy="634.73" r="1.70" fill="#ff0000"/>
<circle cx="168.26" cy="634.73" r="2.40" fill="#bebebe"/>
<circle cx="181.97" cy="634.73" r="4.10" fill="#a68bd5"/>
<circle cx="195.69" cy="634.73" r="3.35" fill="#0000ff"/>
<circle cx="209.40" cy="634.73" r="4.60" fill="#ef7c61"/>
<circle cx="223.11" cy="634.73" r="4.35" fill="#5d35f4"/>
<circle cx="236.83" cy="634.73" r="3.60" fill="#9b7adc"/>
<circle cx="264.25" cy="634.73" r="2.65" fill="#ff0000"/>
<circle cx="277.97" cy="634.73" r="3.35" fill="#0000ff"/>
<circle cx="291.68" cy="634.73" r="4.10" fill="#0000ff"/>
<circle cx="442.53" cy="634.73" r="1.70" fill="#0000ff"/>
<circle cx="456.24" cy="634.73" r="2.45" fill="#0000ff"/>
<circle cx="524.81" cy="634.73" r="1.70" fill="#ff0000"/>
<circle cx="85.98" cy="646.28" r="1.70" fill="#ff0000"/>
<circle cx="99.69" cy="646.28" r="1.70" fill="#ff0000"/>
<circle cx="113.40" cy="646.28" r="1.70" fill="#0000ff"/>
<circle cx="127.12" cy="646.28" r="1.70" fill="#0000ff"/>
<circle cx="223.11" cy="646.28" r="1.70" fill="#0000ff"/>
<circle cx="346.53" cy="646.28" r="1.70" fill="#ff0000"/>
<circle cx="85.98" cy="657.83" r="4.10" fill="#f46d4f"/>
<circle cx="99.69" cy="657.83" r="4.10" fill="#fa5133"/>
<circle cx="113.40" cy="657.83" r="4.35" fill="#d5a99d"/>
<circle cx="127.12" cy="657.83" r="4.35" fill="#f27356"/>
<circle cx="140.83" cy="657.83" r="1.70" fill="#0000ff"/>
<circle cx="154.55" cy="657.83" r="2.65" fill="#ff0000"/>
<circle cx="168.26" cy="657.83" r="2.90" fill="#ff0000"/>
<circle cx="181.97" cy="657.83" r="3.60" fill="#a68bd5"/>
<circle cx="195.69" cy="657.83" r="1.70" fill="#0000ff"/>
<circle cx="236.83" cy="657.83" r="2.90" fill="#bebebe"/>
<circle cx="250.54" cy="657.83" r="2.65" fill="#bebebe"/>
<circle cx="264.25" cy="657.83" r="1.70" fill="#0000ff"/>
<circle cx="291.68" cy="657.83" r="2.65" fill="#0000ff"/>
<circle cx="305.39" cy="657.83" r="1.70" fill="#ff0000"/>
<circle cx="319.11" cy="657.83" r="3.35" fill="#0000ff"/>
<circle cx="360.25" cy="657.83" r="2.65" fill="#bebebe"/>
<circle cx="373.96" cy="657.83" r="1.70" fill="#ff0000"/>
<circle cx="442.53" cy="657.83" r="1.70" fill="#ff0000"/>
<circle cx="497.38" cy="657.83" r="1.70" fill="#0000ff"/>
<circle cx="85.98" cy="669.38" r="4.35" fill="#fb4528"/>
<circle cx="99.69" cy="669.38" r="4.60" fill="#fa5133"/>
<circle cx="113.40" cy="669.38" r="4.80" fill="#ae9bce"/>
<circle cx="127.12" cy="669.38" r="4.80" fill="#fa5133"/>
<circle cx="154.55" cy="669.38" r="3.35" fill="#fa5133"/>
<circle cx="168.26" cy="669.38" r="3.60" fill="#fa5133"/>
<circle cx="181.97" cy="669.38" r="3.85" fill="#f46d4f"/>
<circle cx="195.69" cy="669.38" r="1.70" fill="#0000ff"/>
<circle cx="209.40" cy="669.38" r="2.65" fill="#e98a72"/>
<circle cx="223.11" cy="669.38" r="1.70" fill="#ff0000"/>
<circle cx="236.83" cy="669.38" r="4.80" fill="#fa5133"/>
<circle cx="250.54" cy="669.38" r="3.15" fill="#e19784"/>
<circle cx="264.25" cy="669.38" r="2.90" fill="#ef7c61"/>
<circle cx="277.97" cy="669.38" r="1.70" fill="#0000ff"/>
<circle cx="305.39" cy="669.38" r="1.70" fill="#0000ff"/>
<circle cx="319.11" cy="669.38" r="3.35" fill="#e68f79"/>
<circle cx="332.82" cy="669.38" r="1.70" fill="#ff0000"/>
<circle cx="346.53" cy="669.38" r="1.70" fill="#ff0000"/>
<circle cx="360.25" cy="669.38" r="1.70" fill="#0000ff"/>
<circle cx="373.96" cy="669.38" r="1.70" fill="#ff0000"/>
<circle cx="387.67" cy="669.38" r="1.70" fill="#0000ff"/>
<circle cx="415.10" cy="669.38" r="1.70" fill="#ff0000"/>
<circle cx="428.81" cy="669.38" r="2.30" fill="#bebebe"/>
<circle cx="456.24" cy="669.38" r="2.30" fill="#bebebe"/>
<circle cx="85.98" cy="680.93" r="1.70" fill="#ff0000"/>
<circle cx="113.40" cy="680.93" r="2.40" fill="#bebebe"/>
<circle cx="140.83" cy="680.93" r="3.15" fill="#a991d2"/>
<circle cx="168.26" cy="680.93" r="1.70" fill="#ff0000"/>
<circle cx="181.97" cy="680.93" r="3.15" fill="#dc9f8f"/>
<circle cx="195.69" cy="680.93" r="2.40" fill="#bebebe"/>
<circle cx="223.11" cy="680.93" r="2.65" fill="#ff0000"/>
<circle cx="236.83" cy="680.93" r="2.90" fill="#ff0000"/>
<circle cx="250.54" cy="680.93" r="1.70" fill="#0000ff"/>
<circle cx="264.25" cy="680.93" r="2.40" fill="#bebebe"/>
<circle cx="277.97" cy="680.93" r="1.70" fill="#0000ff"/>
<circle cx="360.25" cy="680.93" r="1.70" fill="#ff0000"/>
<circle cx="113.40" cy="692.48" r="1.70" fill="#0000ff"/>
<circle cx="140.83" cy="692.48" r="1.70" fill="#0000ff"/>
<circle cx="181.97" cy="692.48" r="1.70" fill="#0000ff"/>
<circle cx="264.25" cy="692.48" r="1.70" fill="#0000ff"/>
<circle cx="113.40" cy="704.03" r="1.70" fill="#0000ff"/>
<circle cx="127.12" cy="704.03" r="1.70" fill="#0000ff"/>
<circle cx="140.83" cy="704.03" r="1.70" fill="#0000ff"/>
<circle cx="168.26" cy="704.03" r="1.70" fill="#0000ff"/>
<circle cx="181.97" cy="704.03" r="2.40" fill="#bebebe"/>
<circle cx="195.69" cy="704.03" r="2.65" fill="#0000ff"/>
<circle cx="236.83" cy="704.03" r="1.70" fill="#ff0000"/>
<circle cx="250.54" cy="704.03" r="1.70" fill="#0000ff"/>
<circle cx="305.39" cy="704.03" r="1.70" fill="#0000ff"/>
<circle cx="442.53" cy="704.03" r="2.65" fill="#0000ff"/>
<circle cx="85.98" cy="715.58" r="2.40" fill="#bebebe"/>
<circle cx="99.69" cy="715.58" r="1.70" fill="#0000ff"/>
<circle cx="113.40" cy="715.58" r="4.10" fill="#6a41f1"/>
<circle cx="127.12" cy="715.58" r="4.35" fill="#0000ff"/>
<circle cx="140.83" cy="715.58" r="3.85" fill="#8259e8"/>
<circle cx="181.97" cy="715.58" r="2.90" fill="#9b7adc"/>
<circle cx="195.69" cy="715.58" r="3.15" fill="#0000ff"/>
<circle cx="209.40" cy="715.58" r="1.70" fill="#0000ff"/>
<circle cx="223.11" cy="715.58" r="2.40" fill="#0000ff"/>
<circle cx="236.83" cy="715.58" r="2.65" fill="#a68bd5"/>
<circle cx="250.54" cy="715.58" r="2.90" fill="#0000ff"/>
<circle cx="264.25" cy="715.58" r="4.10" fill="#0000ff"/>
<circle cx="277.97" cy="715.58" r="3.15" fill="#0000ff"/>
<circle cx="291.68" cy="715.58" r="2.90" fill="#0000ff"/>
<circle cx="305.39" cy="715.58" r="1.70" fill="#0000ff"/>
<circle cx="332.82" cy="715.58" r="1.70" fill="#0000ff"/>
<circle cx="360.25" cy="715.58" r="1.70" fill="#0000ff"/>
<circle cx="387.67" cy="715.58" r="1.70" fill="#0000ff"/>
<circle cx="99.69" cy="727.13" r="1.70" fill="#0000ff"/>
<circle cx="209.40" cy="727.13" r="1.70" fill="#bebebe"/>
<circle cx="85.98" cy="738.67" r="1.70" fill="#0000ff"/>
<circle cx="113.40" cy="738.67" r="1.70" fill="#0000ff"/>
<circle cx="195.69" cy="738.67" r="1.70" fill="#0000ff"/>
<circle cx="250.54" cy="738.67" r="1.70" fill="#0000ff"/>
<circle cx="85.98" cy="750.22" r="5.50" fill="#f27356"/>
<circle cx="99.69" cy="750.22" r="6.75" fill="#eb856b"/>
<circle cx="113.40" cy="750.22" r="5.50" fill="#8d67e3"/>
<circle cx="140.83" cy="750.22" r="4.80" fill="#8259e8"/>
<circle cx="154.55" cy="750.22" r="3.85" fill="#ff0000"/>
<circle cx="168.26" cy="750.22" r="4.35" fill="#f46d4f"/>
<circle cx="181.97" cy="750.22" r="2.90" fill="#ff0000"/>
<circle cx="195.69" cy="750.22" r="3.60" fill="#0000ff"/>
<circle cx="209.40" cy="750.22" r="4.35" fill="#e09a87"/>
<circle cx="223.11" cy="750.22" r="4.60" fill="#9b7adc"/>
<circle cx="236.83" cy="750.22" r="3.15" fill="#dc9f8f"/>
<circle cx="264.25" cy="750.22" r="1.70" fill="#0000ff"/>
<circle cx="277.97" cy="750.22" r="1.70" fill="#0000ff"/>
<circle cx="291.68" cy="750.22" r="3.60" fill="#0000ff"/>
<circle cx="305.39" cy="750.22" r="1.70" fill="#0000ff"/>
<circle cx="332.82" cy="750.22" r="1.70" fill="#ff0000"/>
<circle cx="346.53" cy="750.22" r="1.70" fill="#ff0000"/>
<circle cx="428.81" cy="750.22" r="1.70" fill="#ff0000"/>
<circle cx="442.53" cy="750.22" r="1.70" fill="#ff0000"/>
<circle cx="456.24" cy="750.22" r="1.70" fill="#ff0000"/>
<circle cx="469.95" cy="750.22" r="1.70" fill="#ff0000"/>
<circle cx="511.10" cy="750.22" r="1.70" fill="#ff0000"/>
<circle cx="99.69" cy="761.77" r="2.65" fill="#ff0000"/>
<circle cx="113.40" cy="761.77" r="6.00" fill="#522df7"/>
<circle cx="127.12" cy="761.77" r="6.25" fill="#9b7adc"/>
<circle cx="140.83" cy="761.77" r="4.80" fill="#6a41f1"/>
<circle cx="154.55" cy="761.77" r="2.15" fill="#bebebe"/>
<circle cx="168.26" cy="761.77" r="2.65" fill="#0000ff"/>
<circle cx="181.97" cy="761.77" r="4.35" fill="#9b7adc"/>
<circle cx="195.69" cy="761.77" r="4.35" fill="#0000ff"/>
<circle cx="209.40" cy="761.77" r="3.60" fill="#a68bd5"/>
<circle cx="223.11" cy="761.77" r="4.35" fill="#9b7adc"/>
<circle cx="236.83" cy="761.77" r="3.15" fill="#0000ff"/>
<circle cx="250.54" cy="761.77" r="3.60" fill="#906ae2"/>
<circle cx="264.25" cy="761.77" r="3.60" fill="#0000ff"/>
<circle cx="277.97" cy="761.77" r="3.85" fill="#0000ff"/>
<circle cx="291.68" cy="761.77" r="3.60" fill="#0000ff"/>
<circle cx="305.39" cy="761.77" r="2.40" fill="#bebebe"/>
<circle cx="319.11" cy="761.77" r="2.65" fill="#0000ff"/>
<circle cx="332.82" cy="761.77" r="2.65" fill="#0000ff"/>
<circle cx="360.25" cy="761.77" r="3.15" fill="#0000ff"/>
<circle cx="387.67" cy="761.77" r="2.40" fill="#0000ff"/>
<circle cx="442.53" cy="761.77" r="3.25" fill="#0000ff"/>
<circle cx="456.24" cy="761.77" r="1.70" fill="#ff0000"/>
<circle cx="469.95" cy="761.77" r="1.70" fill="#ff0000"/>
<circle cx="483.67" cy="761.77" r="1.70" fill="#ff0000"/>
<circle cx="85.98" cy="773.32" r="1.70" fill="#0000ff"/>
<circle cx="99.69" cy="773.32" r="1.70" fill="#ff0000"/>
<circle cx="127.12" cy="773.32" r="1.70" fill="#0000ff"/>
<circle cx="140.83" cy="773.32" r="2.40" fill="#bebebe"/>
<circle cx="195.69" cy="773.32" r="1.70" fill="#0000ff"/>
<circle cx="291.68" cy="773.32" r="1.70" fill="#0000ff"/>
<circle cx="85.98" cy="796.42" r="1.70" fill="#ff0000"/>
<circle cx="99.69" cy="796.42" r="2.40" fill="#bebebe"/>
<circle cx="113.40" cy="796.42" r="2.90" fill="#0000ff"/>
<circle cx="127.12" cy="796.42" r="4.60" fill="#9b7adc"/>
<circle cx="140.83" cy="796.42" r="3.60" fill="#906ae2"/>
<circle cx="181.97" cy="796.42" r="2.40" fill="#bebebe"/>
<circle cx="195.69" cy="796.42" r="3.60" fill="#0000ff"/>
<circle cx="209.40" cy="796.42" r="2.90" fill="#0000ff"/>
<circle cx="223.11" cy="796.42" r="3.35" fill="#0000ff"/>
<circle cx="236.83" cy="796.42" r="2.90" fill="#0000ff"/>
<circle cx="250.54" cy="796.42" r="2.90" fill="#0000ff"/>
<circle cx="264.25" cy="796.42" r="3.60" fill="#0000ff"/>
<circle cx="277.97" cy="796.42" r="1.70" fill="#0000ff"/>
<circle cx="291.68" cy="796.42" r="3.35" fill="#0000ff"/>
<circle cx="305.39" cy="796.42" r="2.65" fill="#0000ff"/>
<circle cx="319.11" cy="796.42" r="1.70" fill="#0000ff"/>
<circle cx="346.53" cy="796.42" r="1.70" fill="#ff0000"/>
<circle cx="360.25" cy="796.42" r="1.70" fill="#0000ff"/>
<circle cx="387.67" cy="796.42" r="2.65" fill="#0000ff"/>
<circle cx="85.98" cy="807.97" r="4.10" fill="#f56748"/>
<circle cx="99.69" cy="807.97" r="3.85" fill="#e68f79"/>
<circle cx="113.40" cy="807.97" r="4.60" fill="#b6abc7"/>
<circle cx="127.12" cy="807.97" r="3.15" fill="#0000ff"/>
<circle cx="140.83" cy="807.97" r="4.35" fill="#9b7adc"/>
<circle cx="154.55" cy="807.97" r="2.65" fill="#f27356"/>
<circle cx="168.26" cy="807.97" r="2.15" fill="#bebebe"/>
<circle cx="195.69" cy="807.97" r="2.90" fill="#b3a4ca"/>
<circle cx="209.40" cy="807.97" r="2.15" fill="#ec8268"/>
<circle cx="223.11" cy="807.97" r="3.60" fill="#e98a72"/>
<circle cx="236.83" cy="807.97" r="3.60" fill="#d9a496"/>
<circle cx="250.54" cy="807.97" r="3.35" fill="#b2a1cb"/>
<circle cx="264.25" cy="807.97" r="1.70" fill="#ff0000"/>
<circle cx="277.97" cy="807.97" r="2.90" fill="#9b7adc"/>
<circle cx="291.68" cy="807.97" r="3.15" fill="#9774de"/>
<circle cx="305.39" cy="807.97" r="2.65" fill="#0000ff"/>
<circle cx="319.11" cy="807.97" r="2.90" fill="#ab94d1"/>
<circle cx="332.82" cy="807.97" r="2.65" fill="#a68bd5"/>
<circle cx="346.53" cy="807.97" r="2.40" fill="#bebebe"/>
<circle cx="360.25" cy="807.97" r="2.65" fill="#0000ff"/>
<circle cx="373.96" cy="807.97" r="2.65" fill="#ff0000"/>
<circle cx="387.67" cy="807.97" r="2.65" fill="#0000ff"/>
<circle cx="415.10" cy="807.97" r="1.70" fill="#ff0000"/>
<circle cx="428.81" cy="807.97" r="1.70" fill="#0000ff"/>
<circle cx="85.98" cy="819.52" r="2.40" fill="#ff0000"/>
<circle cx="113.40" cy="819.52" r="1.70" fill="#0000ff"/>
<circle cx="140.83" cy="819.52" r="1.70" fill="#ff0000"/>
<circle cx="154.55" cy="819.52" r="1.70" fill="#ff0000"/>
<circle cx="168.26" cy="819.52" r="1.70" fill="#ff0000"/>
<circle cx="181.97" cy="819.52" r="2.40" fill="#ff0000"/>
<circle cx="195.69" cy="819.52" r="1.70" fill="#bebebe"/>
<circle cx="250.54" cy="819.52" r="2.65" fill="#ff0000"/>
<circle cx="277.97" cy="819.52" r="1.70" fill="#ff0000"/>
<circle cx="305.39" cy="819.52" r="1.70" fill="#ff0000"/>
<circle cx="332.82" cy="819.52" r="1.70" fill="#ff0000"/>
<circle cx="428.81" cy="819.52" r="1.70" fill="#0000ff"/>
<circle cx="85.98" cy="831.07" r="3.15" fill="#ff0000"/>
<circle cx="99.69" cy="831.07" r="3.60" fill="#ff0000"/>
<circle cx="113.40" cy="831.07" r="2.90" fill="#bebebe"/>
<circle cx="127.12" cy="831.07" r="3.60" fill="#ff0000"/>
<circle cx="154.55" cy="831.07" r="2.65" fill="#ff0000"/>
<circle cx="168.26" cy="831.07" r="2.65" fill="#ff0000"/>
<circle cx="181.97" cy="831.07" r="3.35" fill="#f27356"/>
<circle cx="195.69" cy="831.07" r="3.15" fill="#f27356"/>
<circle cx="209.40" cy="831.07" r="1.70" fill="#ff0000"/>
<circle cx="223.11" cy="831.07" r="2.40" fill="#ff0000"/>
<circle cx="236.83" cy="831.07" r="1.70" fill="#ff0000"/>
<circle cx="456.24" cy="831.07" r="1.70" fill="#ff0000"/>
<circle cx="469.95" cy="831.07" r="1.70" fill="#ff0000"/>
<circle cx="511.10" cy="831.07" r="1.70" fill="#ff0000"/>
<circle cx="127.12" cy="842.62" r="1.70" fill="#0000ff"/>
<circle cx="195.69" cy="842.62" r="1.70" fill="#0000ff"/>
<circle cx="236.83" cy="842.62" r="1.70" fill="#0000ff"/>
<circle cx="291.68" cy="842.62" r="1.70" fill="#0000ff"/>
<circle cx="85.98" cy="854.17" r="3.15" fill="#ff0000"/>
<circle cx="99.69" cy="854.17" r="3.15" fill="#e68f79"/>
<circle cx="113.40" cy="854.17" r="3.60" fill="#8860e6"/>
<circle cx="127.12" cy="854.17" r="3.35" fill="#b2a1cb"/>
<circle cx="140.83" cy="854.17" r="5.00" fill="#6139f3"/>
<circle cx="154.55" cy="854.17" r="2.40" fill="#e68f79"/>
<circle cx="168.26" cy="854.17" r="2.65" fill="#ff0000"/>
<circle cx="181.97" cy="854.17" r="4.10" fill="#b6abc7"/>
<circle cx="195.69" cy="854.17" r="3.35" fill="#9b7adc"/>
<circle cx="209.40" cy="854.17" r="2.65" fill="#ef7c61"/>
<circle cx="223.11" cy="854.17" r="3.15" fill="#bebebe"/>
<circle cx="250.54" cy="854.17" r="2.65" fill="#a68bd5"/>
<circle cx="264.25" cy="854.17" r="2.65" fill="#0000ff"/>
<circle cx="291.68" cy="854.17" r="1.70" fill="#0000ff"/>
<circle cx="319.11" cy="854.17" r="3.15" fill="#0000ff"/>
<circle cx="346.53" cy="854.17" r="1.70" fill="#0000ff"/>
<circle cx="360.25" cy="854.17" r="1.70" fill="#0000ff"/>
<circle cx="511.10" cy="854.17" r="1.70" fill="#ff0000"/>
<circle cx="85.98" cy="865.72" r="2.65" fill="#ff0000"/>
<circle cx="113.40" cy="865.72" r="1.70" fill="#0000ff"/>
<circle cx="140.83" cy="865.72" r="1.70" fill="#ff0000"/>
<circle cx="154.55" cy="865.72" r="1.70" fill="#ff0000"/>
<circle cx="168.26" cy="865.72" r="1.70" fill="#ff0000"/>
<circle cx="181.97" cy="865.72" r="2.40" fill="#ff0000"/>
<circle cx="195.69" cy="865.72" r="1.70" fill="#ff0000"/>
<circle cx="223.11" cy="865.72" r="2.40" fill="#bebebe"/>
<circle cx="236.83" cy="865.72" r="1.70" fill="#ff0000"/>
<circle cx="250.54" cy="865.72" r="2.40" fill="#bebebe"/>
<circle cx="277.97" cy="865.72" r="1.70" fill="#ff0000"/>
<circle cx="305.39" cy="865.72" r="1.70" fill="#ff0000"/>
<circle cx="319.11" cy="865.72" r="1.70" fill="#0000ff"/>
<circle cx="332.82" cy="865.72" r="1.70" fill="#0000ff"/>
<circle cx="85.98" cy="877.27" r="4.10" fill="#ff0000"/>
<circle cx="99.69" cy="877.27" r="3.15" fill="#ff0000"/>
<circle cx="113.40" cy="877.27" r="3.85" fill="#f27356"/>
<circle cx="127.12" cy="877.27" r="4.10" fill="#ff0000"/>
<circle cx="140.83" cy="877.27" r="1.70" fill="#ff0000"/>
<circle cx="154.55" cy="877.27" r="3.15" fill="#ff0000"/>
<circle cx="168.26" cy="877.27" r="3.15" fill="#ff0000"/>
<circle cx="181.97" cy="877.27" r="3.60" fill="#d5a99d"/>
<circle cx="209.40" cy="877.27" r="1.70" fill="#ff0000"/>
<circle cx="223.11" cy="877.27" r="1.70" fill="#ff0000"/>
<circle cx="236.83" cy="877.27" r="3.60" fill="#f27356"/>
<circle cx="250.54" cy="877.27" r="3.35" fill="#dc9f8f"/>
<circle cx="264.25" cy="877.27" r="3.35" fill="#ff0000"/>
<circle cx="277.97" cy="877.27" r="2.65" fill="#ff0000"/>
<circle cx="291.68" cy="877.27" r="3.35" fill="#906ae2"/>
<circle cx="319.11" cy="877.27" r="2.40" fill="#bebebe"/>
<circle cx="332.82" cy="877.27" r="2.90" fill="#ff0000"/>
<circle cx="346.53" cy="877.27" r="2.65" fill="#ff0000"/>
<circle cx="360.25" cy="877.27" r="1.70" fill="#0000ff"/>
<circle cx="387.67" cy="877.27" r="2.40" fill="#bebebe"/>
<circle cx="401.39" cy="877.27" r="1.70" fill="#ff0000"/>
<circle cx="456.24" cy="877.27" r="1.70" fill="#ff0000"/>
<circle cx="469.95" cy="877.27" r="1.70" fill="#ff0000"/>
<circle cx="483.67" cy="877.27" r="1.70" fill="#ff0000"/>
<circle cx="511.10" cy="877.27" r="1.70" fill="#ff0000"/>
<circle cx="85.98" cy="888.82" r="3.15" fill="#ff0000"/>
<circle cx="99.69" cy="888.82" r="2.40" fill="#0000ff"/>
<circle cx="113.40" cy="888.82" r="3.15" fill="#9b7adc"/>
<circle cx="127.12" cy="888.82" r="1.70" fill="#ff0000"/>
<circle cx="140.83" cy="888.82" r="3.15" fill="#9b7adc"/>
<circle cx="154.55" cy="888.82" r="3.85" fill="#ff0000"/>
<circle cx="168.26" cy="888.82" r="3.35" fill="#ff0000"/>
<circle cx="181.97" cy="888.82" r="1.70" fill="#0000ff"/>
<circle cx="195.69" cy="888.82" r="3.15" fill="#0000ff"/>
<circle cx="209.40" cy="888.82" r="1.70" fill="#ff0000"/>
<circle cx="223.11" cy="888.82" r="1.70" fill="#ff0000"/>
<circle cx="236.83" cy="888.82" r="2.40" fill="#ff0000"/>
<circle cx="250.54" cy="888.82" r="1.70" fill="#0000ff"/>
<circle cx="277.97" cy="888.82" r="1.70" fill="#0000ff"/>
<circle cx="319.11" cy="888.82" r="2.40" fill="#bebebe"/>
<circle cx="332.82" cy="888.82" r="1.70" fill="#ff0000"/>
<circle cx="415.10" cy="888.82" r="2.45" fill="#ff0000"/>
<circle cx="85.98" cy="900.37" r="3.60" fill="#ff0000"/>
<circle cx="99.69" cy="900.37" r="2.65" fill="#ff0000"/>
<circle cx="113.40" cy="900.37" r="3.60" fill="#9b7adc"/>
<circle cx="127.12" cy="900.37" r="1.70" fill="#ff0000"/>
<circle cx="140.83" cy="900.37" r="1.70" fill="#ff0000"/>
<circle cx="154.55" cy="900.37" r="2.90" fill="#ff0000"/>
<circle cx="168.26" cy="900.37" r="1.70" fill="#ff0000"/>
<circle cx="181.97" cy="900.37" r="3.15" fill="#f46d4f"/>
<circle cx="195.69" cy="900.37" r="2.40" fill="#0000ff"/>
<circle cx="250.54" cy="900.37" r="2.65" fill="#0000ff"/>
<circle cx="264.25" cy="900.37" r="1.70" fill="#ff0000"/>
<circle cx="305.39" cy="900.37" r="2.65" fill="#0000ff"/>
<circle cx="319.11" cy="900.37" r="1.70" fill="#ff0000"/>
<circle cx="332.82" cy="900.37" r="1.70" fill="#ff0000"/>
<circle cx="360.25" cy="900.37" r="2.65" fill="#0000ff"/>
<circle cx="387.67" cy="900.37" r="1.70" fill="#0000ff"/>
<circle cx="428.81" cy="900.37" r="1.70" fill="#0000ff"/>
<circle cx="85.98" cy="911.92" r="3.85" fill="#e39480"/>
<circle cx="99.69" cy="911.92" r="5.50" fill="#a284d8"/>
<circle cx="113.40" cy="911.92" r="3.35" fill="#a284d8"/>
<circle cx="127.12" cy="911.92" r="4.80" fill="#a991d2"/>
<circle cx="140.83" cy="911.92" r="2.90" fill="#a68bd5"/>
<circle cx="154.55" cy="911.92" r="1.70" fill="#ff0000"/>
<circle cx="168.26" cy="911.92" r="2.40" fill="#ff0000"/>
<circle cx="181.97" cy="911.92" r="2.90" fill="#a68bd5"/>
<circle cx="195.69" cy="911.92" r="1.70" fill="#0000ff"/>
<circle cx="236.83" cy="911.92" r="2.90" fill="#9b7adc"/>
<circle cx="264.25" cy="911.92" r="1.70" fill="#0000ff"/>
<circle cx="291.68" cy="911.92" r="3.15" fill="#0000ff"/>
<circle cx="524.81" cy="911.92" r="2.30" fill="#bebebe"/>
<circle cx="113.40" cy="923.47" r="2.65" fill="#0000ff"/>
<circle cx="195.69" cy="923.47" r="2.65" fill="#0000ff"/>
<rect x="77.95" y="535.40" width="468.80" height="395.00" fill="none" stroke="#333" stroke-width="1.1"/>
<path d="M75.05 542.33H77.95M75.05 553.88H77.95M75.05 565.43H77.95M75.05 576.98H77.95M75.05 588.53H77.95M75.05 600.08H77.95M75.05 611.63H77.95M75.05 623.18H77.95M75.05 634.73H77.95M75.05 646.28H77.95M75.05 657.83H77.95M75.05 669.38H77.95M75.05 680.93H77.95M75.05 692.48H77.95M75.05 704.03H77.95M75.05 715.58H77.95M75.05 727.13H77.95M75.05 738.67H77.95M75.05 750.22H77.95M75.05 761.77H77.95M75.05 773.32H77.95M75.05 784.87H77.95M75.05 796.42H77.95M75.05 807.97H77.95M75.05 819.52H77.95M75.05 831.07H77.95M75.05 842.62H77.95M75.05 854.17H77.95M75.05 865.72H77.95M75.05 877.27H77.95M75.05 888.82H77.95M75.05 900.37H77.95M75.05 911.92H77.95M75.05 923.47H77.95M85.98 930.40V933.60M99.69 930.40V933.60M113.40 930.40V933.60M127.12 930.40V933.60M140.83 930.40V933.60M154.55 930.40V933.60M168.26 930.40V933.60M181.97 930.40V933.60M195.69 930.40V933.60M209.40 930.40V933.60M223.11 930.40V933.60M236.83 930.40V933.60M250.54 930.40V933.60M264.25 930.40V933.60M277.97 930.40V933.60M291.68 930.40V933.60M305.39 930.40V933.60M319.11 930.40V933.60M332.82 930.40V933.60M346.53 930.40V933.60M360.25 930.40V933.60M373.96 930.40V933.60M387.67 930.40V933.60M401.39 930.40V933.60M415.10 930.40V933.60M428.81 930.40V933.60M442.53 930.40V933.60M456.24 930.40V933.60M469.95 930.40V933.60M483.67 930.40V933.60M497.38 930.40V933.60M511.10 930.40V933.60M524.81 930.40V933.60M538.52 930.40V933.60" stroke="#333" stroke-width="1.1" fill="none"/>
<text transform="translate(72.05 545.99) scale(1 1.0)" text-anchor="end" class="lab">ASXL1</text>
<text transform="translate(72.05 557.54) scale(1 1.0)" text-anchor="end" class="lab">BCOR</text>
<text transform="translate(72.05 569.09) scale(1 1.0)" text-anchor="end" class="lab">CALR</text>
<text transform="translate(72.05 580.64) scale(1 1.0)" text-anchor="end" class="lab">CBL</text>
<text transform="translate(72.05 592.19) scale(1 1.0)" text-anchor="end" class="lab">CSF3R</text>
<text transform="translate(72.05 603.74) scale(1 1.0)" text-anchor="end" class="lab">DNMT3A</text>
<text transform="translate(72.05 615.29) scale(1 1.0)" text-anchor="end" class="lab">ETV6</text>
<text transform="translate(72.05 626.84) scale(1 1.0)" text-anchor="end" class="lab">EZH2</text>
<text transform="translate(72.05 638.39) scale(1 1.0)" text-anchor="end" class="lab">FLT3</text>
<text transform="translate(72.05 649.94) scale(1 1.0)" text-anchor="end" class="lab">GATA2</text>
<text transform="translate(72.05 661.49) scale(1 1.0)" text-anchor="end" class="lab">IDH1</text>
<text transform="translate(72.05 673.04) scale(1 1.0)" text-anchor="end" class="lab">IDH2</text>
<text transform="translate(72.05 684.59) scale(1 1.0)" text-anchor="end" class="lab">JAK2</text>
<text transform="translate(72.05 696.14) scale(1 1.0)" text-anchor="end" class="lab">KDM6A</text>
<text transform="translate(72.05 707.69) scale(1 1.0)" text-anchor="end" class="lab">KIT</text>
<text transform="translate(72.05 719.24) scale(1 1.0)" text-anchor="end" class="lab">KRAS</text>
<text transform="translate(72.05 730.79) scale(1 1.0)" text-anchor="end" class="lab">MYC</text>
<text transform="translate(72.05 742.34) scale(1 1.0)" text-anchor="end" class="lab">NF1</text>
<text transform="translate(72.05 753.89) scale(1 1.0)" text-anchor="end" class="lab">NPM1</text>
<text transform="translate(72.05 765.44) scale(1 1.0)" text-anchor="end" class="lab">NRAS</text>
<text transform="translate(72.05 776.99) scale(1 1.0)" text-anchor="end" class="lab">PHF6</text>
<text transform="translate(72.05 788.54) scale(1 1.0)" text-anchor="end" class="lab">PPM1D</text>
<text transform="translate(72.05 800.09) scale(1 1.0)" text-anchor="end" class="lab">PTPN11</text>
<text transform="translate(72.05 811.64) scale(1 1.0)" text-anchor="end" class="lab">RUNX1</text>
<text transform="translate(72.05 823.19) scale(1 1.0)" text-anchor="end" class="lab">SETBP1</text>
<text transform="translate(72.05 834.74) scale(1 1.0)" text-anchor="end" class="lab">SF3B1</text>
<text transform="translate(72.05 846.29) scale(1 1.0)" text-anchor="end" class="lab">SMC1A</text>
<text transform="translate(72.05 857.83) scale(1 1.0)" text-anchor="end" class="lab">SRSF2</text>
<text transform="translate(72.05 869.38) scale(1 1.0)" text-anchor="end" class="lab">STAG2</text>
<text transform="translate(72.05 880.93) scale(1 1.0)" text-anchor="end" class="lab">TET2</text>
<text transform="translate(72.05 892.48) scale(1 1.0)" text-anchor="end" class="lab">TP53</text>
<text transform="translate(72.05 904.03) scale(1 1.0)" text-anchor="end" class="lab">U2AF1</text>
<text transform="translate(72.05 915.58) scale(1 1.0)" text-anchor="end" class="lab">WT1</text>
<text transform="translate(72.05 927.13) scale(1 1.0)" text-anchor="end" class="lab">ZRSR2</text>
<text transform="translate(85.98 936.00) rotate(-45) translate(0 7.13) scale(1 1.0)" text-anchor="end" class="lab">NRAS</text>
<text transform="translate(99.69 936.00) rotate(-45) translate(0 7.13) scale(1 1.0)" text-anchor="end" class="lab">FLT3</text>
<text transform="translate(113.40 936.00) rotate(-45) translate(0 7.13) scale(1 1.0)" text-anchor="end" class="lab">DNMT3A</text>
<text transform="translate(127.12 936.00) rotate(-45) translate(0 7.13) scale(1 1.0)" text-anchor="end" class="lab">NPM1</text>
<text transform="translate(140.83 936.00) rotate(-45) translate(0 7.13) scale(1 1.0)" text-anchor="end" class="lab">IDH2</text>
<text transform="translate(154.55 936.00) rotate(-45) translate(0 7.13) scale(1 1.0)" text-anchor="end" class="lab">KRAS</text>
<text transform="translate(168.26 936.00) rotate(-45) translate(0 7.13) scale(1 1.0)" text-anchor="end" class="lab">PTPN11</text>
<text transform="translate(181.97 936.00) rotate(-45) translate(0 7.13) scale(1 1.0)" text-anchor="end" class="lab">RUNX1</text>
<text transform="translate(195.69 936.00) rotate(-45) translate(0 7.13) scale(1 1.0)" text-anchor="end" class="lab">TET2</text>
<text transform="translate(209.40 936.00) rotate(-45) translate(0 7.13) scale(1 1.0)" text-anchor="end" class="lab">WT1</text>
<text transform="translate(223.11 936.00) rotate(-45) translate(0 7.13) scale(1 1.0)" text-anchor="end" class="lab">IDH1</text>
<text transform="translate(236.83 936.00) rotate(-45) translate(0 7.13) scale(1 1.0)" text-anchor="end" class="lab">SRSF2</text>
<text transform="translate(250.54 936.00) rotate(-45) translate(0 7.13) scale(1 1.0)" text-anchor="end" class="lab">ASXL1</text>
<text transform="translate(264.25 936.00) rotate(-45) translate(0 7.13) scale(1 1.0)" text-anchor="end" class="lab">TP53</text>
<text transform="translate(277.97 936.00) rotate(-45) translate(0 7.13) scale(1 1.0)" text-anchor="end" class="lab">U2AF1</text>
<text transform="translate(291.68 936.00) rotate(-45) translate(0 7.13) scale(1 1.0)" text-anchor="end" class="lab">SF3B1</text>
<text transform="translate(305.39 936.00) rotate(-45) translate(0 7.13) scale(1 1.0)" text-anchor="end" class="lab">BCOR</text>
<text transform="translate(319.11 936.00) rotate(-45) translate(0 7.13) scale(1 1.0)" text-anchor="end" class="lab">JAK2</text>
<text transform="translate(332.82 936.00) rotate(-45) translate(0 7.13) scale(1 1.0)" text-anchor="end" class="lab">EZH2</text>
<text transform="translate(346.53 936.00) rotate(-45) translate(0 7.13) scale(1 1.0)" text-anchor="end" class="lab">KIT</text>
<text transform="translate(360.25 936.00) rotate(-45) translate(0 7.13) scale(1 1.0)" text-anchor="end" class="lab">STAG2</text>
<text transform="translate(373.96 936.00) rotate(-45) translate(0 7.13) scale(1 1.0)" text-anchor="end" class="lab">CSF3R</text>
<text transform="translate(387.67 936.00) rotate(-45) translate(0 7.13) scale(1 1.0)" text-anchor="end" class="lab">SETBP1</text>
<text transform="translate(401.39 936.00) rotate(-45) translate(0 7.13) scale(1 1.0)" text-anchor="end" class="lab">ZRSR2</text>
<text transform="translate(415.10 936.00) rotate(-45) translate(0 7.13) scale(1 1.0)" text-anchor="end" class="lab">KDM6A</text>
<text transform="translate(428.81 936.00) rotate(-45) translate(0 7.13) scale(1 1.0)" text-anchor="end" class="lab">CBL</text>
<text transform="translate(442.53 936.00) rotate(-45) translate(0 7.13) scale(1 1.0)" text-anchor="end" class="lab">GATA2</text>
<text transform="translate(456.24 936.00) rotate(-45) translate(0 7.13) scale(1 1.0)" text-anchor="end" class="lab">PHF6</text>
<text transform="translate(469.95 936.00) rotate(-45) translate(0 7.13) scale(1 1.0)" text-anchor="end" class="lab">ETV6</text>
<text transform="translate(483.67 936.00) rotate(-45) translate(0 7.13) scale(1 1.0)" text-anchor="end" class="lab">NF1</text>
<text transform="translate(497.38 936.00) rotate(-45) translate(0 7.13) scale(1 1.0)" text-anchor="end" class="lab">CALR</text>
<text transform="translate(511.10 936.00) rotate(-45) translate(0 7.13) scale(1 1.0)" text-anchor="end" class="lab">SMC1A</text>
<text transform="translate(524.81 936.00) rotate(-45) translate(0 7.13) scale(1 1.0)" text-anchor="end" class="lab">MYC</text>
<text transform="translate(538.52 936.00) rotate(-45) translate(0 7.13) scale(1 1.0)" text-anchor="end" class="lab">PPM1D</text>
<text transform="translate(12.0 22.3) scale(1 1.055)" class="tt">A)</text>
<text transform="translate(12.2 520.9) scale(1 1.055)" class="tt">B)</text>
<text transform="translate(312.6 493.9) scale(1 1.055)" text-anchor="middle" class="tt">Gene 2</text>
<text transform="translate(312.6 992.9) scale(1 1.055)" text-anchor="middle" class="tt">Second gene</text>
<text transform="translate(23.2 236) rotate(-90) scale(1 1.055)" text-anchor="middle" class="tt">Gene 1</text>
<text transform="translate(23.8 732.2) rotate(-90) scale(1 1.055)" text-anchor="middle" class="tt">First gene</text>
<text transform="translate(563.80 107.50) scale(1 1.05)" class="lt">Proportion Gene 1 in</text>
<text transform="translate(563.80 122.70) scale(1 1.05)" class="lt">same clone as Gene 2</text>
<rect x="563.20" y="131.10" width="19.7" height="96" fill="url(#grad)"/>
<path d="M563.20 131.10h3.9M579.00 131.10h3.9" stroke="#fff" stroke-width="0.9" opacity="0.8"/>
<text transform="translate(589.00 134.80) scale(1 1.0)" class="ll">1.00</text>
<path d="M563.20 155.10h3.9M579.00 155.10h3.9" stroke="#fff" stroke-width="0.9" opacity="0.8"/>
<text transform="translate(589.00 158.80) scale(1 1.0)" class="ll">0.75</text>
<path d="M563.20 179.10h3.9M579.00 179.10h3.9" stroke="#fff" stroke-width="0.9" opacity="0.8"/>
<text transform="translate(589.00 182.80) scale(1 1.0)" class="ll">0.50</text>
<path d="M563.20 203.10h3.9M579.00 203.10h3.9" stroke="#fff" stroke-width="0.9" opacity="0.8"/>
<text transform="translate(589.00 206.80) scale(1 1.0)" class="ll">0.25</text>
<path d="M563.20 227.10h3.9M579.00 227.10h3.9" stroke="#fff" stroke-width="0.9" opacity="0.8"/>
<text transform="translate(589.00 230.80) scale(1 1.0)" class="ll">0.00</text>
<text transform="translate(558.90 260.70) scale(1 1.05)" class="lt"># in same sample</text>
<circle cx="568.10" cy="277.80" r="4.15" fill="#000"/>
<text transform="translate(583.90 281.50) scale(1 1.0)" class="ll">10</text>
<circle cx="568.10" cy="297.20" r="5.15" fill="#000"/>
<text transform="translate(583.90 300.90) scale(1 1.0)" class="ll">20</text>
<circle cx="568.10" cy="316.10" r="5.90" fill="#000"/>
<text transform="translate(583.90 319.80) scale(1 1.0)" class="ll">30</text>
<circle cx="568.10" cy="334.80" r="6.70" fill="#000"/>
<text transform="translate(583.90 338.50) scale(1 1.0)" class="ll">40</text>
<text transform="translate(565.80 630.20) scale(1 1.05)" class="lt">Proportion first gene</text>
<text transform="translate(565.80 644.70) scale(1 1.05)" class="lt">before second gene</text>
<rect x="564.90" y="652.60" width="19.7" height="96" fill="url(#grad)"/>
<path d="M564.90 652.60h3.9M580.70 652.60h3.9" stroke="#fff" stroke-width="0.9" opacity="0.8"/>
<text transform="translate(590.70 656.30) scale(1 1.0)" class="ll">1.00</text>
<path d="M564.90 676.60h3.9M580.70 676.60h3.9" stroke="#fff" stroke-width="0.9" opacity="0.8"/>
<text transform="translate(590.70 680.30) scale(1 1.0)" class="ll">0.75</text>
<path d="M564.90 700.60h3.9M580.70 700.60h3.9" stroke="#fff" stroke-width="0.9" opacity="0.8"/>
<text transform="translate(590.70 704.30) scale(1 1.0)" class="ll">0.50</text>
<path d="M564.90 724.60h3.9M580.70 724.60h3.9" stroke="#fff" stroke-width="0.9" opacity="0.8"/>
<text transform="translate(590.70 728.30) scale(1 1.0)" class="ll">0.25</text>
<path d="M564.90 748.60h3.9M580.70 748.60h3.9" stroke="#fff" stroke-width="0.9" opacity="0.8"/>
<text transform="translate(590.70 752.30) scale(1 1.0)" class="ll">0.00</text>
<text transform="translate(565.60 775.10) scale(1 1.05)" class="lt"># in same clone</text>
<circle cx="574.40" cy="792.00" r="4.15" fill="#000"/>
<text transform="translate(589.80 795.70) scale(1 1.0)" class="ll">10</text>
<circle cx="574.40" cy="811.00" r="5.15" fill="#000"/>
<text transform="translate(589.80 814.70) scale(1 1.0)" class="ll">20</text>
<circle cx="574.40" cy="830.00" r="5.90" fill="#000"/>
<text transform="translate(589.80 833.70) scale(1 1.0)" class="ll">30</text>
<circle cx="574.40" cy="849.00" r="6.70" fill="#000"/>
<text transform="translate(589.80 852.70) scale(1 1.0)" class="ll">40</text>
</svg>
</body></html>
